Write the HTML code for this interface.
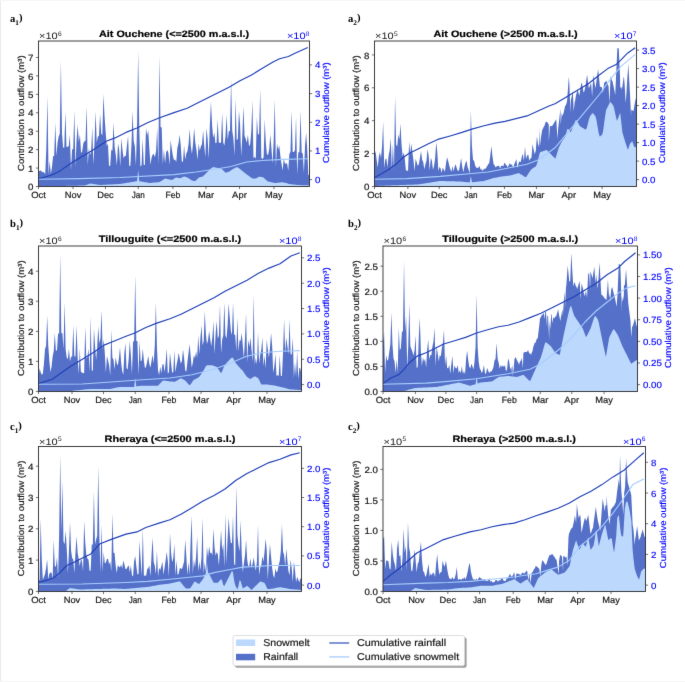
<!DOCTYPE html>
<html><head><meta charset="utf-8"><style>
html,body{margin:0;padding:0;background:#fff;}
svg{display:block;font-family:"Liberation Sans",sans-serif;will-change:transform;text-rendering:geometricPrecision;}
</style></head><body>
<svg width="685" height="682" viewBox="0 0 685 682">
<defs><filter id="bl" x="0" y="0" width="685" height="682" filterUnits="userSpaceOnUse" color-interpolation-filters="sRGB"><feConvolveMatrix order="3" kernelMatrix="0.00524 0.06192 0.00524 0.06192 0.73137 0.06192 0.00524 0.06192 0.00524" edgeMode="duplicate"/></filter></defs>
<g filter="url(#bl)">
<rect width="685" height="682" fill="#fff"/>
<rect x="0" y="0" width="1" height="682" fill="#ececec"/>
<rect x="0" y="0" width="685" height="1" fill="#f6f6f6"/>
<rect x="0" y="681" width="685" height="1" fill="#f6f6f6"/>
<clipPath id="clipa1"><rect x="38.5" y="41" width="271.0" height="145.5"/></clipPath>
<g clip-path="url(#clipa1)">
<path d="M38.50 186.50L38.50 169.97L39.62 171.32L40.74 170.29L41.86 171.83L42.98 172.33L44.10 172.34L45.22 174.25L46.34 147.83L47.46 96.00L48.58 174.72L49.70 161.00L50.82 173.87L51.94 167.48L53.06 156.23L54.18 156.08L55.30 122.50L56.42 155.79L57.54 143.00L58.66 136.40L59.78 133.83L60.90 61.00L62.02 133.47L63.14 147.81L64.26 147.53L65.38 111.50L66.50 146.97L67.62 146.69L68.74 146.29L69.86 134.60L70.97 170.24L72.09 149.56L73.22 148.94L74.33 110.40L75.45 166.90L76.57 139.91L77.69 124.70L78.81 141.98L79.93 134.60L81.05 153.09L82.17 151.57L83.29 143.40L84.41 141.36L85.53 140.81L86.65 106.00L87.77 165.25L88.89 148.00L90.01 155.06L91.13 151.64L92.25 127.00L93.37 164.52L94.49 142.58L95.61 111.50L96.73 142.43L97.85 136.80L98.97 135.77L100.09 113.70L101.21 133.16L102.33 135.49L103.45 93.90L104.57 117.00L105.69 132.58L106.81 146.27L107.93 143.40L109.05 165.90L110.17 165.81L111.29 149.52L112.41 150.66L113.53 122.50L114.65 146.97L115.77 154.66L116.89 165.47L118.01 143.40L119.13 148.93L120.25 166.15L121.37 137.90L122.49 150.17L123.61 158.37L124.73 156.01L125.85 155.73L126.97 145.34L128.09 135.70L129.21 165.67L130.33 166.08L131.45 145.24L132.57 110.40L133.69 140.88L134.81 146.24L135.93 165.29L137.04 126.92L138.16 51.00L139.28 127.02L140.41 166.20L141.53 165.52L142.65 139.00L143.76 164.98L144.88 164.99L146.00 128.00L147.12 135.57L148.24 130.20L149.36 148.80L150.48 164.65L151.60 157.41L152.72 154.40L153.84 153.98L154.96 157.20L156.08 150.86L157.20 128.10L158.32 164.32L159.44 55.40L160.56 127.25L161.68 127.18L162.80 164.22L163.92 149.37L165.04 163.42L166.16 152.00L167.28 150.00L168.40 152.85L169.52 164.76L170.64 140.00L171.76 148.44L172.88 155.76L174.00 159.97L175.12 159.56L176.24 161.89L177.36 147.88L178.48 143.47L179.60 134.60L180.72 144.88L181.84 161.59L182.96 161.76L184.08 145.60L185.20 159.49L186.32 153.44L187.44 151.31L188.56 143.89L189.68 129.00L190.80 145.73L191.92 153.88L193.04 143.69L194.16 128.00L195.28 142.52L196.40 149.47L197.52 159.84L198.64 143.40L199.76 150.76L200.88 146.48L202.00 144.00L203.12 130.20L204.24 145.70L205.35 157.23L206.47 128.00L207.59 138.00L208.72 158.56L209.84 124.90L210.96 101.60L212.07 124.78L213.19 137.97L214.31 132.40L215.43 143.29L216.55 142.63L217.67 119.20L218.79 142.52L219.91 142.76L221.03 142.73L222.15 112.60L223.27 142.65L224.39 145.45L225.51 135.57L226.63 114.80L227.75 139.89L228.87 130.92L229.99 130.89L231.11 79.60L232.23 130.81L233.35 137.95L234.47 155.48L235.59 98.30L236.71 139.92L237.83 138.98L238.95 110.40L240.07 123.96L241.19 155.95L242.31 135.63L243.43 106.00L244.55 135.81L245.67 138.55L246.79 142.81L247.91 134.60L249.03 146.14L250.15 144.26L251.27 131.99L252.39 100.50L253.51 158.27L254.63 156.83L255.75 158.69L256.87 117.00L257.99 134.30L259.11 134.39L260.23 88.40L261.35 158.12L262.47 159.05L263.59 157.48L264.71 119.20L265.83 143.04L266.95 154.40L268.07 154.68L269.19 149.19L270.31 134.60L271.43 147.99L272.55 163.49L273.67 141.24L274.79 99.40L275.90 166.80L277.02 143.83L278.14 149.49L279.26 145.60L280.38 155.96L281.50 163.72L282.62 170.46L283.74 158.80L284.86 163.33L285.98 163.86L287.10 163.20L288.22 170.83L289.34 154.34L290.46 151.77L291.58 110.40L292.70 151.92L293.82 151.99L294.94 150.18L296.06 117.00L297.18 174.14L298.30 152.29L299.42 152.37L300.54 110.40L301.66 152.52L302.78 153.38L303.90 172.73L305.02 146.10L306.14 132.40L307.26 149.68L308.38 175.26L309.50 174.62L309.50 186.50Z" fill="#5470c8"/>
<path d="M38.50 186.50L38.50 186.30L39.62 186.28L40.74 186.27L41.86 186.25L42.98 186.24L44.10 186.22L45.22 186.21L46.34 186.19L47.46 186.17L48.58 186.16L49.70 186.14L50.82 186.13L51.94 186.11L53.06 186.10L54.18 186.08L55.30 186.07L56.42 186.05L57.54 186.03L58.66 186.02L59.78 186.00L60.90 185.98L62.02 185.96L63.14 185.94L64.26 185.91L65.38 185.89L66.50 185.87L67.62 185.85L68.74 185.83L69.86 185.80L70.97 185.78L72.09 185.76L73.22 185.74L74.33 185.71L75.45 185.69L76.57 185.67L77.69 185.65L78.81 185.62L79.93 185.60L81.05 185.58L82.17 185.56L83.29 185.53L84.41 185.51L85.53 185.29L86.65 184.84L87.77 184.39L88.89 183.94L90.01 183.50L91.13 183.67L92.25 183.84L93.37 184.01L94.49 184.17L95.61 184.34L96.73 184.51L97.85 184.68L98.97 184.85L100.09 185.00L101.21 184.94L102.33 184.88L103.45 184.83L104.57 184.77L105.69 184.72L106.81 184.66L107.93 184.60L109.05 184.55L110.17 184.49L111.29 184.44L112.41 184.38L113.53 184.32L114.65 184.27L115.77 184.21L116.89 184.16L118.01 184.10L119.13 184.04L120.25 183.96L121.37 183.77L122.49 183.59L123.61 183.40L124.73 183.21L125.85 183.03L126.97 182.84L128.09 182.65L129.21 182.47L130.33 182.28L131.45 182.09L132.57 181.91L133.69 181.72L134.81 181.53L135.93 181.35L137.04 181.16L138.16 170.00L139.28 181.21L140.41 181.40L141.53 181.59L142.65 181.77L143.76 181.96L144.88 182.15L146.00 182.33L147.12 182.52L148.24 182.71L149.36 182.89L150.48 182.95L151.60 182.84L152.72 182.73L153.84 182.62L154.96 182.50L156.08 182.39L157.20 182.28L158.32 182.17L159.44 182.06L160.56 181.61L161.68 180.82L162.80 180.04L163.92 179.26L165.04 178.51L166.16 178.75L167.28 178.99L168.40 179.23L169.52 179.47L170.64 179.71L171.76 179.95L172.88 179.45L174.00 178.75L175.12 178.05L176.24 177.55L177.36 177.81L178.48 178.06L179.60 178.31L180.72 178.04L181.84 177.48L182.96 176.92L184.08 176.57L185.20 176.87L186.32 177.16L187.44 177.46L188.56 178.21L189.68 179.03L190.80 179.86L191.92 180.42L193.04 180.69L194.16 180.95L195.28 181.12L196.40 180.00L197.52 178.88L198.64 177.76L199.76 177.22L200.88 176.96L202.00 176.69L203.12 176.18L204.24 175.06L205.35 173.94L206.47 172.82L207.59 171.70L208.72 170.59L209.84 169.47L210.96 168.52L212.07 167.76L213.19 167.00L214.31 167.23L215.43 167.47L216.55 167.70L217.67 167.93L218.79 168.19L219.91 168.47L221.03 168.74L222.15 169.35L223.27 170.47L224.39 171.59L225.51 172.70L226.63 172.40L227.75 172.11L228.87 171.81L229.99 171.19L231.11 170.36L232.23 169.54L233.35 168.77L234.47 168.21L235.59 167.65L236.71 167.09L237.83 167.61L238.95 168.34L240.07 169.12L241.19 170.02L242.31 170.93L243.43 171.83L244.55 172.74L245.67 173.56L246.79 174.39L247.91 175.21L249.03 176.06L250.15 176.91L251.27 177.77L252.39 178.40L253.51 178.40L254.63 178.40L255.75 178.40L256.87 177.92L257.99 177.36L259.11 176.80L260.23 176.64L261.35 176.93L262.47 177.23L263.59 177.58L264.71 178.68L265.83 179.76L266.95 180.86L268.07 181.39L269.19 181.67L270.31 181.95L271.43 182.23L272.55 182.51L273.67 182.79L274.79 183.07L275.90 182.98L277.02 182.85L278.14 182.72L279.26 182.58L280.38 182.45L281.50 182.32L282.62 182.23L283.74 182.51L284.86 182.79L285.98 183.07L287.10 183.35L288.22 183.63L289.34 183.91L290.46 184.14L291.58 184.28L292.70 184.41L293.82 184.55L294.94 184.68L296.06 184.82L297.18 184.95L298.30 185.02L299.42 185.06L300.54 185.10L301.66 185.14L302.78 185.17L303.90 185.21L305.02 185.25L306.14 185.29L307.26 185.32L308.38 185.36L309.50 185.40L309.50 186.50Z" fill="#bcd8fd"/>
<path d="M38.50 178.80L51.20 175.30L60.00 170.90L71.00 163.20L82.00 156.60L93.00 150.00L106.20 141.20L115.00 137.90L126.00 132.40L137.00 128.00L148.00 122.50L159.00 118.00L174.00 112.60L187.20 108.20L196.00 103.80L207.00 98.30L218.00 92.80L229.00 87.30L240.00 80.70L251.00 75.20L262.00 68.60L273.00 62.00L279.60 58.70L288.40 56.50L295.00 53.20L307.80 47.50" fill="none" stroke="#2040b8" stroke-width="1.15" stroke-linejoin="round"/>
<path d="M38.50 179.30L80.00 178.60L120.00 177.50L174.00 174.60L196.00 172.00L218.00 168.70L231.00 166.50L246.60 162.00L262.00 160.50L284.00 159.40L307.80 158.80" fill="none" stroke="#a6cdfe" stroke-width="1.1" stroke-linejoin="round"/>
</g>
<text x="10.00" y="22.20" font-family="Liberation Serif" font-weight="bold" font-size="10.6">a<tspan font-size="7.2" dy="2.8">1</tspan><tspan dy="-3.7">)</tspan></text>
<text x="174.00" y="36.60" font-size="9.33" text-anchor="middle" fill="#000" stroke="#000" stroke-width="0.200" font-weight="bold" textLength="150.00" lengthAdjust="spacingAndGlyphs">Ait Ouchene (&lt;=2500 m.a.s.l.)</text>
<text x="39.10" y="39.10" font-size="9.37" fill="#1a1a1a" textLength="18.66" lengthAdjust="spacingAndGlyphs">×10</text><text x="58.06" y="35.50" font-size="6.56" fill="#1a1a1a">6</text>
<text x="286.91" y="39.10" font-size="9.37" fill="#0000ff" textLength="18.66" lengthAdjust="spacingAndGlyphs">×10</text><text x="305.86" y="35.50" font-size="6.56" fill="#0000ff">8</text>
<text x="33.50" y="190.10" font-size="9.01" text-anchor="end" fill="#1a1a1a" stroke="#1a1a1a" stroke-width="0.200" textLength="5.41" lengthAdjust="spacingAndGlyphs">0</text>
<text x="33.50" y="171.67" font-size="9.01" text-anchor="end" fill="#1a1a1a" stroke="#1a1a1a" stroke-width="0.200" textLength="5.41" lengthAdjust="spacingAndGlyphs">1</text>
<text x="33.50" y="153.24" font-size="9.01" text-anchor="end" fill="#1a1a1a" stroke="#1a1a1a" stroke-width="0.200" textLength="5.41" lengthAdjust="spacingAndGlyphs">2</text>
<text x="33.50" y="134.81" font-size="9.01" text-anchor="end" fill="#1a1a1a" stroke="#1a1a1a" stroke-width="0.200" textLength="5.41" lengthAdjust="spacingAndGlyphs">3</text>
<text x="33.50" y="116.38" font-size="9.01" text-anchor="end" fill="#1a1a1a" stroke="#1a1a1a" stroke-width="0.200" textLength="5.41" lengthAdjust="spacingAndGlyphs">4</text>
<text x="33.50" y="97.95" font-size="9.01" text-anchor="end" fill="#1a1a1a" stroke="#1a1a1a" stroke-width="0.200" textLength="5.41" lengthAdjust="spacingAndGlyphs">5</text>
<text x="33.50" y="79.52" font-size="9.01" text-anchor="end" fill="#1a1a1a" stroke="#1a1a1a" stroke-width="0.200" textLength="5.41" lengthAdjust="spacingAndGlyphs">6</text>
<text x="33.50" y="61.09" font-size="9.01" text-anchor="end" fill="#1a1a1a" stroke="#1a1a1a" stroke-width="0.200" textLength="5.41" lengthAdjust="spacingAndGlyphs">7</text>
<text x="314.90" y="183.10" font-size="9.01" text-anchor="start" fill="#0000ff" stroke="#0000ff" stroke-width="0.140" textLength="5.41" lengthAdjust="spacingAndGlyphs">0</text>
<text x="314.90" y="154.43" font-size="9.01" text-anchor="start" fill="#0000ff" stroke="#0000ff" stroke-width="0.140" textLength="5.41" lengthAdjust="spacingAndGlyphs">1</text>
<text x="314.90" y="125.76" font-size="9.01" text-anchor="start" fill="#0000ff" stroke="#0000ff" stroke-width="0.140" textLength="5.41" lengthAdjust="spacingAndGlyphs">2</text>
<text x="314.90" y="97.09" font-size="9.01" text-anchor="start" fill="#0000ff" stroke="#0000ff" stroke-width="0.140" textLength="5.41" lengthAdjust="spacingAndGlyphs">3</text>
<text x="314.90" y="68.42" font-size="9.01" text-anchor="start" fill="#0000ff" stroke="#0000ff" stroke-width="0.140" textLength="5.41" lengthAdjust="spacingAndGlyphs">4</text>
<text x="38.50" y="198.10" font-size="9.01" text-anchor="middle" fill="#1a1a1a" stroke="#1a1a1a" stroke-width="0.200" textLength="14.70" lengthAdjust="spacingAndGlyphs">Oct</text>
<text x="73.03" y="198.10" font-size="9.01" text-anchor="middle" fill="#1a1a1a" stroke="#1a1a1a" stroke-width="0.200" textLength="16.59" lengthAdjust="spacingAndGlyphs">Nov</text>
<text x="105.44" y="198.10" font-size="9.01" text-anchor="middle" fill="#1a1a1a" stroke="#1a1a1a" stroke-width="0.200" textLength="16.45" lengthAdjust="spacingAndGlyphs">Dec</text>
<text x="138.20" y="198.10" font-size="9.01" text-anchor="middle" fill="#1a1a1a" stroke="#1a1a1a" stroke-width="0.200" textLength="13.10" lengthAdjust="spacingAndGlyphs">Jan</text>
<text x="172.92" y="198.10" font-size="9.01" text-anchor="middle" fill="#1a1a1a" stroke="#1a1a1a" stroke-width="0.200" textLength="15.05" lengthAdjust="spacingAndGlyphs">Feb</text>
<text x="205.98" y="198.10" font-size="9.01" text-anchor="middle" fill="#1a1a1a" stroke="#1a1a1a" stroke-width="0.200" textLength="16.04" lengthAdjust="spacingAndGlyphs">Mar</text>
<text x="239.47" y="198.10" font-size="9.01" text-anchor="middle" fill="#1a1a1a" stroke="#1a1a1a" stroke-width="0.200" textLength="14.71" lengthAdjust="spacingAndGlyphs">Apr</text>
<text x="273.92" y="198.10" font-size="9.01" text-anchor="middle" fill="#1a1a1a" stroke="#1a1a1a" stroke-width="0.200" textLength="17.57" lengthAdjust="spacingAndGlyphs">May</text>
<path d="M38.50 186.50h-2.6 M38.50 168.07h-2.6 M38.50 149.64h-2.6 M38.50 131.21h-2.6 M38.50 112.78h-2.6 M38.50 94.35h-2.6 M38.50 75.92h-2.6 M38.50 57.49h-2.6 M309.50 179.60h2.6 M309.50 150.93h2.6 M309.50 122.26h2.6 M309.50 93.59h2.6 M309.50 64.92h2.6 M38.50 186.50v2.6 M73.03 186.50v2.6 M105.44 186.50v2.6 M138.20 186.50v2.6 M172.92 186.50v2.6 M205.98 186.50v2.6 M239.47 186.50v2.6 M273.92 186.50v2.6" stroke="#444" stroke-width="0.75" fill="none"/>
<text x="24.00" y="113.15" font-size="8.75" text-anchor="middle" fill="#1a1a1a" stroke="#1a1a1a" stroke-width="0.200" textLength="115.65" lengthAdjust="spacingAndGlyphs" transform="rotate(-90 24.00 113.15)">Contribution to outflow (m³)</text>
<text x="329.50" y="112.65" font-size="8.75" text-anchor="middle" fill="#0000ff" stroke="#0000ff" stroke-width="0.140" textLength="100.61" lengthAdjust="spacingAndGlyphs" transform="rotate(-90 329.50 112.65)">Cumulative outflow (m³)</text>
<rect x="38.50" y="41.00" width="271.00" height="145.50" fill="none" stroke="#2a2a2a" stroke-width="0.9"/>
<clipPath id="clipa2"><rect x="374.5" y="41" width="262.0" height="145.5"/></clipPath>
<g clip-path="url(#clipa2)">
<path d="M374.50 186.50L374.50 155.63L375.58 151.00L376.67 160.03L377.75 167.55L378.83 156.60L379.91 152.20L381.00 158.18L382.08 145.95L383.16 121.40L384.24 168.11L385.33 158.93L386.41 158.80L387.49 167.33L388.57 155.67L389.66 150.52L390.74 137.90L391.82 169.97L392.90 143.40L393.99 170.18L395.07 96.10L396.15 144.44L397.24 146.41L398.32 134.60L399.40 139.59L400.48 123.60L401.57 145.06L402.65 156.51L403.73 152.20L404.81 158.63L405.90 170.39L406.98 170.52L408.06 171.12L409.14 141.20L410.23 153.73L411.31 143.40L412.39 152.32L413.48 160.31L414.56 170.99L415.64 158.80L416.72 162.36L417.81 165.91L418.89 163.98L419.97 157.69L421.05 151.00L422.14 159.70L423.22 162.00L424.30 169.24L425.38 164.48L426.47 160.72L427.55 148.90L428.63 155.60L429.71 170.54L430.80 157.70L431.88 160.69L432.96 169.85L434.05 166.08L435.13 158.27L436.21 142.30L437.29 151.85L438.38 170.90L439.46 166.92L440.54 168.13L441.62 172.95L442.71 167.80L443.79 169.62L444.87 172.07L445.95 163.86L447.04 157.30L448.12 160.78L449.20 165.29L450.29 168.91L451.37 171.92L452.45 166.00L453.53 171.59L454.62 166.82L455.70 164.30L456.78 168.25L457.86 171.06L458.95 170.50L460.03 165.02L461.11 158.10L462.19 166.39L463.28 172.29L464.36 166.99L465.44 163.11L466.52 160.80L467.61 166.94L468.69 170.11L469.77 173.26L470.86 110.00L471.94 146.09L473.02 160.10L474.10 160.80L475.19 165.83L476.27 167.75L477.35 167.64L478.43 167.71L479.52 166.00L480.60 169.59L481.68 169.31L482.76 171.11L483.85 168.65L484.93 168.91L486.01 168.04L487.10 166.30L488.18 164.30L489.26 162.92L490.34 154.90L491.43 145.90L492.51 156.81L493.59 163.97L494.67 165.59L495.76 167.53L496.84 166.00L497.92 166.36L499.00 165.47L500.09 168.50L501.17 165.67L502.25 165.84L503.33 166.18L504.42 162.50L505.50 164.37L506.58 165.15L507.67 167.29L508.75 165.32L509.83 163.00L510.91 165.10L512.00 164.26L513.08 167.89L514.16 164.54L515.24 162.10L516.33 159.00L517.41 167.91L518.49 163.14L519.57 161.33L520.66 162.26L521.74 156.94L522.82 153.80L523.90 160.92L524.99 146.80L526.07 158.99L527.15 155.59L528.24 154.42L529.32 160.67L530.40 158.59L531.48 157.71L532.57 144.10L533.65 149.54L534.73 154.28L535.81 150.42L536.90 136.30L537.98 143.69L539.06 146.95L540.00 127.70L540.14 145.44L541.23 135.74L542.31 129.49L542.90 129.00L543.39 127.56L544.48 125.81L545.56 122.17L545.80 121.80L546.64 121.67L547.72 122.70L548.80 124.70L548.81 141.74L549.89 125.91L550.97 125.93L551.70 126.20L552.05 126.05L553.14 124.47L554.22 122.43L555.30 121.10L556.10 118.90L556.38 120.79L557.47 139.09L558.20 127.70L558.55 125.50L559.63 115.63L560.40 108.70L560.72 124.42L561.80 112.85L562.60 116.00L562.88 115.20L563.96 111.34L564.80 107.20L565.04 106.23L566.13 104.48L567.00 101.40L567.21 99.25L568.29 83.91L568.80 76.50L569.38 84.10L570.46 113.65L570.70 101.40L571.54 97.27L572.62 92.16L572.80 91.10L573.71 111.47L574.79 101.23L575.00 101.40L575.87 96.00L576.96 91.66L577.20 89.70L578.04 90.91L579.12 95.01L579.40 95.50L580.20 89.76L581.28 83.34L581.60 82.40L582.37 85.25L583.45 91.76L583.80 92.60L584.53 90.40L585.30 86.80L585.62 84.63L586.70 77.26L587.20 75.10L587.78 80.53L588.86 88.65L588.90 88.20L589.95 85.82L591.03 83.00L591.10 82.40L592.11 96.70L593.19 76.32L593.30 75.10L594.28 81.43L595.36 87.62L595.50 88.20L596.44 80.96L597.52 72.91L598.10 69.20L598.61 73.22L599.69 84.32L599.90 86.80L600.77 86.65L601.86 87.28L602.00 88.20L602.94 93.23L604.02 83.74L604.20 82.40L605.10 82.57L606.19 80.27L606.40 80.90L607.27 83.14L608.35 85.47L608.60 86.80L609.43 103.15L610.52 77.42L610.80 76.50L611.60 79.47L612.68 81.90L613.00 83.80L613.76 87.22L614.85 92.68L615.20 95.50L615.93 79.10L617.01 55.45L617.40 48.00L618.10 48.05L618.80 48.80L619.18 57.74L620.00 76.50L620.26 87.61L621.34 87.26L621.80 89.70L622.43 86.13L623.51 78.08L623.90 76.50L624.59 83.79L625.67 102.84L626.10 98.40L626.76 87.24L627.84 70.83L628.30 63.40L628.92 74.59L629.80 91.10L630.00 94.55L631.09 115.93L631.20 110.10L632.17 110.24L633.25 110.89L633.40 111.60L634.34 105.68L635.42 99.91L635.60 98.40L636.50 100.00L636.50 186.50Z" fill="#5470c8"/>
<path d="M374.50 186.50L374.50 186.00L375.58 185.96L376.67 185.92L377.75 185.88L378.83 185.84L379.91 185.80L381.00 185.76L382.08 185.72L383.16 185.68L384.24 185.64L385.33 185.60L386.41 185.56L387.49 185.52L388.57 185.48L389.66 185.44L390.74 185.40L391.82 185.36L392.90 185.32L393.99 185.27L395.07 185.23L396.15 185.20L397.24 185.16L398.32 185.13L399.40 185.09L400.48 185.06L401.57 185.02L402.65 184.99L403.73 184.95L404.81 184.92L405.90 184.89L406.98 184.85L408.06 184.82L409.14 184.78L410.23 184.75L411.31 184.71L412.39 184.68L413.48 184.64L414.56 184.61L415.64 184.58L416.72 184.54L417.81 184.51L418.89 184.36L419.97 184.19L421.05 184.01L422.14 183.84L423.22 183.67L424.30 183.50L425.38 183.33L426.47 183.15L427.55 182.98L428.63 182.81L429.71 182.64L430.80 182.46L431.88 182.29L432.96 182.12L434.05 181.95L435.13 181.78L436.21 181.60L437.29 181.43L438.38 181.26L439.46 181.09L440.54 181.01L441.62 181.04L442.71 181.07L443.79 181.09L444.87 181.12L445.95 181.15L447.04 181.18L448.12 181.20L449.20 181.23L450.29 181.26L451.37 181.28L452.45 181.31L453.53 181.34L454.62 181.37L455.70 181.39L456.78 181.42L457.86 181.45L458.95 181.47L460.03 181.50L461.11 181.61L462.19 181.72L463.28 181.83L464.36 181.94L465.44 182.04L466.52 182.15L467.61 182.26L468.69 182.37L469.77 182.48L470.86 176.00L471.94 182.29L473.02 182.18L474.10 182.06L475.19 181.94L476.27 181.83L477.35 181.71L478.43 181.60L479.52 181.48L480.60 181.36L481.68 181.25L482.76 181.13L483.85 181.02L484.93 180.71L486.01 180.37L487.10 180.03L488.18 179.69L489.26 179.35L490.34 179.01L491.43 178.67L492.51 178.33L493.59 178.09L494.67 177.87L495.76 177.65L496.84 177.42L497.92 177.20L499.00 176.98L500.09 176.75L501.17 176.53L502.25 176.40L503.33 176.29L504.42 176.18L505.50 176.07L506.58 175.95L507.67 175.84L508.75 175.73L509.83 175.62L510.91 175.33L512.00 175.01L513.08 174.69L514.16 174.37L515.24 174.05L516.33 173.73L517.41 173.41L518.49 173.09L519.57 173.49L520.66 174.17L521.74 174.85L522.82 175.53L523.90 176.21L524.99 176.89L526.07 177.00L527.15 175.38L528.24 173.77L529.32 172.16L530.40 170.54L531.48 169.25L532.57 168.53L533.65 167.82L534.73 167.10L535.81 166.39L536.90 164.09L537.98 159.95L539.06 155.80L540.00 152.20L540.14 152.15L541.23 151.79L542.31 151.43L542.90 151.23L543.39 151.07L544.48 150.71L545.56 150.35L545.80 150.27L546.64 150.04L547.72 151.12L548.80 152.20L548.81 152.21L549.89 153.29L550.97 154.37L551.70 155.10L552.05 155.45L553.14 156.54L554.22 157.62L555.30 158.70L556.10 156.47L556.38 155.52L557.47 151.91L558.20 149.47L558.55 148.30L559.63 145.94L560.40 144.40L560.72 143.77L561.80 141.60L562.60 140.40L562.88 140.03L563.96 138.58L564.80 137.47L565.04 137.14L566.13 133.49L567.00 130.00L567.21 129.16L568.29 129.06L568.80 129.73L569.38 130.50L570.46 131.95L570.70 132.27L571.54 130.42L572.62 127.54L572.80 127.07L573.71 124.65L574.79 122.22L575.00 121.80L575.87 120.06L576.96 120.51L577.20 121.00L578.04 122.67L579.12 124.84L579.40 125.40L580.20 126.20L581.28 126.92L581.60 127.13L582.37 127.65L583.45 128.37L583.80 128.60L584.53 129.09L585.30 129.60L585.62 129.81L586.70 128.21L587.20 126.20L587.78 123.88L588.86 119.54L588.90 119.40L589.95 116.39L591.03 114.90L591.10 114.80L592.11 113.41L593.19 113.26L593.30 113.40L594.28 114.70L595.36 116.15L595.50 116.33L596.44 119.65L597.52 126.15L598.10 129.60L598.61 132.64L599.69 136.54L599.90 136.40L600.77 135.82L601.86 135.10L602.00 135.00L602.94 132.12L604.02 124.18L604.20 122.87L605.10 116.24L606.19 109.83L606.40 109.40L607.27 107.66L608.35 105.50L608.60 105.00L609.43 103.33L610.52 101.89L610.80 102.27L611.60 103.33L612.68 104.78L613.00 105.20L613.76 106.77L614.85 111.82L615.20 113.47L615.93 116.87L617.01 121.10L617.40 120.07L618.10 118.21L618.80 116.33L619.18 115.33L620.00 113.13L620.26 113.14L621.34 122.89L621.80 127.00L622.43 132.49L623.51 136.09L623.90 137.40L624.59 139.70L625.67 143.31L626.10 144.60L626.76 146.57L627.84 149.82L628.30 148.80L628.92 146.94L629.80 144.30L630.00 143.69L631.09 142.41L631.20 142.30L632.17 141.33L633.25 144.06L633.40 144.50L634.34 147.31L635.42 147.05L635.60 146.90L636.50 146.16L636.50 186.50Z" fill="#bcd8fd"/>
<path d="M374.50 177.50L380.60 174.20L388.30 169.80L396.00 164.30L401.50 158.80L409.20 153.30L418.00 148.90L429.00 143.40L437.80 139.40L451.00 135.70L462.00 132.40L471.90 129.10L484.00 125.80L495.00 123.10L505.00 121.40L527.00 115.90L549.00 106.00L555.00 103.80L566.00 97.20L577.00 90.60L588.00 84.00L599.00 75.20L607.80 68.60L616.60 64.20L621.00 59.80L627.50 53.20L635.20 47.70" fill="none" stroke="#2040b8" stroke-width="1.15" stroke-linejoin="round"/>
<path d="M374.50 179.20L407.00 178.60L440.00 176.40L472.00 173.50L488.40 172.00L505.00 168.70L527.00 164.30L538.00 159.90L549.00 152.20L555.00 147.80L566.00 134.60L577.00 121.40L588.00 108.20L599.00 95.00L610.00 79.60L621.00 66.40L635.20 54.30" fill="none" stroke="#a6cdfe" stroke-width="1.1" stroke-linejoin="round"/>
</g>
<text x="348.00" y="22.20" font-family="Liberation Serif" font-weight="bold" font-size="10.6">a<tspan font-size="7.2" dy="2.8">2</tspan><tspan dy="-3.7">)</tspan></text>
<text x="505.50" y="36.60" font-size="9.33" text-anchor="middle" fill="#000" stroke="#000" stroke-width="0.200" font-weight="bold" textLength="144.00" lengthAdjust="spacingAndGlyphs">Ait Ouchene (&gt;2500 m.a.s.l.)</text>
<text x="375.10" y="39.10" font-size="9.37" fill="#1a1a1a" textLength="18.66" lengthAdjust="spacingAndGlyphs">×10</text><text x="394.06" y="35.50" font-size="6.56" fill="#1a1a1a">5</text>
<text x="613.91" y="39.10" font-size="9.37" fill="#0000ff" textLength="18.66" lengthAdjust="spacingAndGlyphs">×10</text><text x="632.86" y="35.50" font-size="6.56" fill="#0000ff">7</text>
<text x="369.50" y="190.10" font-size="9.01" text-anchor="end" fill="#1a1a1a" stroke="#1a1a1a" stroke-width="0.200" textLength="5.41" lengthAdjust="spacingAndGlyphs">0</text>
<text x="369.50" y="157.20" font-size="9.01" text-anchor="end" fill="#1a1a1a" stroke="#1a1a1a" stroke-width="0.200" textLength="5.41" lengthAdjust="spacingAndGlyphs">2</text>
<text x="369.50" y="124.30" font-size="9.01" text-anchor="end" fill="#1a1a1a" stroke="#1a1a1a" stroke-width="0.200" textLength="5.41" lengthAdjust="spacingAndGlyphs">4</text>
<text x="369.50" y="91.40" font-size="9.01" text-anchor="end" fill="#1a1a1a" stroke="#1a1a1a" stroke-width="0.200" textLength="5.41" lengthAdjust="spacingAndGlyphs">6</text>
<text x="369.50" y="58.50" font-size="9.01" text-anchor="end" fill="#1a1a1a" stroke="#1a1a1a" stroke-width="0.200" textLength="5.41" lengthAdjust="spacingAndGlyphs">8</text>
<text x="641.90" y="183.10" font-size="9.01" text-anchor="start" fill="#0000ff" stroke="#0000ff" stroke-width="0.140" textLength="13.52" lengthAdjust="spacingAndGlyphs">0.0</text>
<text x="641.90" y="164.60" font-size="9.01" text-anchor="start" fill="#0000ff" stroke="#0000ff" stroke-width="0.140" textLength="13.52" lengthAdjust="spacingAndGlyphs">0.5</text>
<text x="641.90" y="146.10" font-size="9.01" text-anchor="start" fill="#0000ff" stroke="#0000ff" stroke-width="0.140" textLength="13.52" lengthAdjust="spacingAndGlyphs">1.0</text>
<text x="641.90" y="127.60" font-size="9.01" text-anchor="start" fill="#0000ff" stroke="#0000ff" stroke-width="0.140" textLength="13.52" lengthAdjust="spacingAndGlyphs">1.5</text>
<text x="641.90" y="109.10" font-size="9.01" text-anchor="start" fill="#0000ff" stroke="#0000ff" stroke-width="0.140" textLength="13.52" lengthAdjust="spacingAndGlyphs">2.0</text>
<text x="641.90" y="90.60" font-size="9.01" text-anchor="start" fill="#0000ff" stroke="#0000ff" stroke-width="0.140" textLength="13.52" lengthAdjust="spacingAndGlyphs">2.5</text>
<text x="641.90" y="72.10" font-size="9.01" text-anchor="start" fill="#0000ff" stroke="#0000ff" stroke-width="0.140" textLength="13.52" lengthAdjust="spacingAndGlyphs">3.0</text>
<text x="641.90" y="53.60" font-size="9.01" text-anchor="start" fill="#0000ff" stroke="#0000ff" stroke-width="0.140" textLength="13.52" lengthAdjust="spacingAndGlyphs">3.5</text>
<text x="374.50" y="198.10" font-size="9.01" text-anchor="middle" fill="#1a1a1a" stroke="#1a1a1a" stroke-width="0.200" textLength="14.70" lengthAdjust="spacingAndGlyphs">Oct</text>
<text x="407.88" y="198.10" font-size="9.01" text-anchor="middle" fill="#1a1a1a" stroke="#1a1a1a" stroke-width="0.200" textLength="16.59" lengthAdjust="spacingAndGlyphs">Nov</text>
<text x="439.21" y="198.10" font-size="9.01" text-anchor="middle" fill="#1a1a1a" stroke="#1a1a1a" stroke-width="0.200" textLength="16.45" lengthAdjust="spacingAndGlyphs">Dec</text>
<text x="470.89" y="198.10" font-size="9.01" text-anchor="middle" fill="#1a1a1a" stroke="#1a1a1a" stroke-width="0.200" textLength="13.10" lengthAdjust="spacingAndGlyphs">Jan</text>
<text x="504.45" y="198.10" font-size="9.01" text-anchor="middle" fill="#1a1a1a" stroke="#1a1a1a" stroke-width="0.200" textLength="15.05" lengthAdjust="spacingAndGlyphs">Feb</text>
<text x="536.42" y="198.10" font-size="9.01" text-anchor="middle" fill="#1a1a1a" stroke="#1a1a1a" stroke-width="0.200" textLength="16.04" lengthAdjust="spacingAndGlyphs">Mar</text>
<text x="568.80" y="198.10" font-size="9.01" text-anchor="middle" fill="#1a1a1a" stroke="#1a1a1a" stroke-width="0.200" textLength="14.71" lengthAdjust="spacingAndGlyphs">Apr</text>
<text x="602.10" y="198.10" font-size="9.01" text-anchor="middle" fill="#1a1a1a" stroke="#1a1a1a" stroke-width="0.200" textLength="17.57" lengthAdjust="spacingAndGlyphs">May</text>
<path d="M374.50 186.50h-2.6 M374.50 153.60h-2.6 M374.50 120.70h-2.6 M374.50 87.80h-2.6 M374.50 54.90h-2.6 M636.50 179.60h2.6 M636.50 161.10h2.6 M636.50 142.60h2.6 M636.50 124.10h2.6 M636.50 105.60h2.6 M636.50 87.10h2.6 M636.50 68.60h2.6 M636.50 50.10h2.6 M374.50 186.50v2.6 M407.88 186.50v2.6 M439.21 186.50v2.6 M470.89 186.50v2.6 M504.45 186.50v2.6 M536.42 186.50v2.6 M568.80 186.50v2.6 M602.10 186.50v2.6" stroke="#444" stroke-width="0.75" fill="none"/>
<text x="359.30" y="113.15" font-size="8.75" text-anchor="middle" fill="#1a1a1a" stroke="#1a1a1a" stroke-width="0.200" textLength="115.65" lengthAdjust="spacingAndGlyphs" transform="rotate(-90 359.30 113.15)">Contribution to outflow (m³)</text>
<text x="665.20" y="112.65" font-size="8.75" text-anchor="middle" fill="#0000ff" stroke="#0000ff" stroke-width="0.140" textLength="100.61" lengthAdjust="spacingAndGlyphs" transform="rotate(-90 665.20 112.65)">Cumulative outflow (m³)</text>
<rect x="374.50" y="41.00" width="262.00" height="145.50" fill="none" stroke="#2a2a2a" stroke-width="0.9"/>
<clipPath id="clipb1"><rect x="38.5" y="246" width="263.0" height="145.5"/></clipPath>
<g clip-path="url(#clipb1)">
<path d="M38.50 391.50L38.50 376.87L39.59 368.20L40.67 372.20L41.76 374.76L42.85 373.70L43.93 363.69L45.02 348.94L46.11 345.68L47.19 315.40L48.28 346.00L49.37 360.63L50.45 372.25L51.54 366.82L52.63 356.43L53.72 351.16L54.80 333.00L55.89 350.44L56.98 350.60L58.06 333.86L59.15 333.51L60.24 253.80L61.32 333.14L62.41 333.00L63.50 349.17L64.58 302.20L65.67 349.80L66.76 357.59L67.84 359.21L68.93 348.40L70.02 361.61L71.10 356.70L72.19 356.59L73.28 325.30L74.36 356.37L75.45 356.68L76.54 325.30L77.62 356.46L78.71 373.65L79.80 348.40L80.88 371.85L81.97 372.39L83.06 373.29L84.14 373.01L85.23 326.40L86.32 358.48L87.41 357.33L88.49 348.40L89.58 371.83L90.67 316.50L91.75 370.33L92.84 370.88L93.93 328.60L95.01 345.44L96.10 360.12L97.19 347.17L98.27 326.40L99.36 343.51L100.45 338.36L101.53 309.90L102.62 349.40L103.71 339.60L104.79 352.74L105.88 372.65L106.97 356.10L108.05 360.42L109.14 365.55L110.23 375.13L111.31 329.70L112.40 357.74L113.49 359.64L114.57 369.54L115.66 357.20L116.75 363.15L117.83 365.72L118.92 357.95L120.01 347.30L121.09 362.25L122.18 370.98L123.27 374.73L124.36 353.00L125.44 342.90L126.53 368.17L127.62 369.38L128.70 358.76L129.79 340.70L130.88 355.32L131.96 374.27L133.05 341.74L134.14 340.94L135.22 274.70L136.31 340.97L137.40 340.99L138.48 375.35L139.57 340.70L140.66 361.03L141.74 360.65L142.83 348.40L143.92 360.98L145.00 368.39L146.09 366.57L147.18 361.47L148.26 356.10L149.35 363.88L150.44 367.49L151.53 361.09L152.61 355.00L153.70 363.58L154.78 345.53L155.87 302.20L156.96 347.62L158.04 370.48L159.13 374.94L160.22 366.48L161.31 373.14L162.39 364.47L163.48 363.97L164.57 371.88L165.65 362.42L166.74 348.40L167.83 373.45L168.91 372.33L170.00 352.80L171.09 362.99L172.17 372.65L173.26 371.95L174.35 350.60L175.43 372.16L176.52 365.00L177.61 359.75L178.69 352.80L179.78 358.55L180.87 363.84L181.96 360.81L183.04 349.50L184.13 358.17L185.22 370.23L186.30 371.67L187.39 362.30L188.47 353.41L189.56 344.00L190.65 355.78L191.74 367.44L192.82 362.72L193.91 355.00L195.00 358.33L196.08 351.24L197.17 357.67L198.26 335.20L199.34 354.13L200.43 337.58L201.52 325.30L202.60 345.39L203.69 340.96L204.78 311.00L205.86 333.57L206.95 344.09L208.04 340.32L209.12 330.80L210.21 339.11L211.30 346.20L212.38 337.03L213.47 320.90L214.56 354.35L215.65 333.10L216.73 320.90L217.82 338.78L218.91 335.46L219.99 304.40L221.08 353.32L222.16 339.39L223.25 335.58L224.34 302.20L225.43 335.35L226.51 338.41L227.60 325.28L228.69 303.30L229.77 317.93L230.86 331.04L231.95 334.98L233.03 302.20L234.12 334.84L235.21 334.86L236.29 351.58L237.38 317.60L238.47 351.46L239.55 340.13L240.64 340.67L241.73 333.00L242.81 345.66L243.90 358.41L244.99 338.71L246.07 313.20L247.16 362.51L248.25 339.75L249.34 346.81L250.42 337.40L251.51 349.19L252.59 361.73L253.68 294.50L254.77 364.40L255.85 357.92L256.94 364.60L258.03 331.90L259.12 363.60L260.20 355.06L261.29 349.60L262.38 337.40L263.46 366.28L264.55 355.57L265.64 368.55L266.72 339.60L267.81 349.17L268.90 357.80L269.98 347.89L271.07 333.00L272.16 345.84L273.24 372.96L274.33 366.25L275.42 353.90L276.50 375.98L277.59 375.11L278.68 376.37L279.76 355.00L280.85 376.03L281.94 375.79L283.02 353.15L284.11 318.70L285.20 352.68L286.29 337.40L287.37 346.29L288.46 353.96L289.55 318.70L290.63 354.29L291.72 354.45L292.81 337.40L293.89 378.34L294.98 362.35L296.07 376.89L297.15 350.60L298.24 379.12L299.33 367.69L300.41 368.40L301.50 376.28L301.50 391.50Z" fill="#5470c8"/>
<path d="M38.50 391.50L38.50 391.30L39.59 391.29L40.67 391.28L41.76 391.27L42.85 391.26L43.93 391.25L45.02 391.24L46.11 391.23L47.19 391.22L48.28 391.21L49.37 391.20L50.45 391.19L51.54 391.18L52.63 391.17L53.72 391.16L54.80 391.14L55.89 391.13L56.98 391.12L58.06 391.11L59.15 391.10L60.24 391.09L61.32 391.08L62.41 391.07L63.50 391.06L64.58 391.05L65.67 391.04L66.76 391.03L67.84 391.02L68.93 391.01L70.02 391.00L71.10 390.89L72.19 390.78L73.28 390.67L74.36 390.56L75.45 390.45L76.54 390.35L77.62 390.24L78.71 390.13L79.80 390.02L80.88 389.91L81.97 389.80L83.06 389.69L84.14 389.59L85.23 389.48L86.32 389.37L87.41 389.26L88.49 389.15L89.58 389.04L90.67 389.00L91.75 389.00L92.84 389.00L93.93 389.00L95.01 389.00L96.10 389.00L97.19 389.00L98.27 389.00L99.36 389.00L100.45 389.00L101.53 389.00L102.62 389.00L103.71 389.00L104.79 389.00L105.88 389.00L106.97 389.00L108.05 389.00L109.14 389.00L110.23 388.95L111.31 388.72L112.40 388.50L113.49 388.27L114.57 388.04L115.66 387.81L116.75 387.58L117.83 387.35L118.92 387.13L120.01 386.90L121.09 386.90L122.18 386.90L123.27 386.90L124.36 386.90L125.44 386.90L126.53 386.90L127.62 386.90L128.70 386.90L129.79 386.90L130.88 386.90L131.96 386.90L133.05 386.90L134.14 386.88L135.22 378.00L136.31 386.48L137.40 386.28L138.48 386.08L139.57 385.88L140.66 385.80L141.74 385.80L142.83 385.80L143.92 385.80L145.00 385.80L146.09 385.80L147.18 385.80L148.26 385.80L149.35 385.80L150.44 385.80L151.53 385.80L152.61 385.80L153.70 385.80L154.78 385.80L155.87 385.80L156.96 385.80L158.04 385.75L159.13 384.55L160.22 383.36L161.31 382.16L162.39 380.97L163.48 380.38L164.57 380.55L165.65 380.72L166.74 380.89L167.83 381.06L168.91 381.23L170.00 381.40L171.09 381.51L172.17 381.62L173.26 381.73L174.35 381.83L175.43 381.61L176.52 380.87L177.61 380.13L178.69 379.39L179.78 378.66L180.87 378.24L181.96 378.81L183.04 379.37L184.13 379.94L185.22 380.52L186.30 381.72L187.39 382.93L188.47 384.13L189.56 385.34L190.65 384.32L191.74 382.67L192.82 381.03L193.91 379.80L195.00 379.25L196.08 378.71L197.17 378.17L198.26 377.62L199.34 376.84L200.43 375.22L201.52 373.61L202.60 371.99L203.69 370.14L204.78 368.23L205.86 366.32L206.95 365.20L208.04 365.20L209.12 365.20L210.21 365.20L211.30 365.20L212.38 365.31L213.47 365.74L214.56 366.16L215.65 366.59L216.73 367.04L217.82 368.58L218.91 370.12L219.99 371.65L221.08 373.19L222.16 371.21L223.25 368.34L224.34 365.80L225.43 364.45L226.51 363.10L227.60 361.75L228.69 360.63L229.77 359.57L230.86 358.51L231.95 357.44L233.03 357.95L234.12 360.08L235.21 362.22L236.29 363.63L237.38 364.99L238.47 366.34L239.55 367.55L240.64 368.64L241.73 369.73L242.81 370.87L243.90 372.52L244.99 374.16L246.07 375.81L247.16 376.88L248.25 377.70L249.34 378.52L250.42 378.90L251.51 378.24L252.59 377.58L253.68 376.92L254.77 376.33L255.85 376.86L256.94 377.39L258.03 377.92L259.12 379.76L260.20 382.28L261.29 384.60L262.38 384.60L263.46 384.60L264.55 384.60L265.64 384.60L266.72 384.60L267.81 384.61L268.90 384.76L269.98 384.91L271.07 385.06L272.16 385.20L273.24 385.35L274.33 385.50L275.42 385.68L276.50 385.94L277.59 386.21L278.68 386.47L279.76 386.73L280.85 387.00L281.94 387.26L283.02 387.53L284.11 387.81L285.20 388.09L286.29 388.37L287.37 388.65L288.46 388.93L289.55 389.21L290.63 389.36L291.72 389.44L292.81 389.53L293.89 389.61L294.98 389.69L296.07 389.78L297.15 389.86L298.24 389.95L299.33 390.03L300.41 390.12L301.50 390.20L301.50 391.50Z" fill="#bcd8fd"/>
<path d="M38.50 383.60L52.30 379.20L60.00 373.70L71.00 366.00L82.00 359.40L93.00 352.80L104.00 345.10L115.00 340.70L126.00 336.30L134.80 333.00L145.80 327.50L156.80 323.10L170.00 318.70L181.00 314.30L192.00 308.80L203.00 303.30L214.00 297.80L225.00 291.20L236.00 285.70L247.00 280.20L258.00 273.60L269.00 268.10L280.00 263.70L291.00 256.00L299.80 252.70" fill="none" stroke="#2040b8" stroke-width="1.15" stroke-linejoin="round"/>
<path d="M38.50 384.20L82.00 384.00L104.00 382.50L135.00 380.30L170.00 378.00L192.00 374.80L214.00 369.30L231.60 362.70L247.00 356.10L262.40 352.80L280.00 351.20L299.80 350.60" fill="none" stroke="#a6cdfe" stroke-width="1.1" stroke-linejoin="round"/>
</g>
<text x="10.00" y="226.90" font-family="Liberation Serif" font-weight="bold" font-size="10.6">b<tspan font-size="7.2" dy="2.8">1</tspan><tspan dy="-3.7">)</tspan></text>
<text x="170.00" y="241.60" font-size="9.33" text-anchor="middle" fill="#000" stroke="#000" stroke-width="0.200" font-weight="bold" textLength="142.40" lengthAdjust="spacingAndGlyphs">Tillouguite (&lt;=2500 m.a.s.l.)</text>
<text x="39.10" y="244.10" font-size="9.37" fill="#1a1a1a" textLength="18.66" lengthAdjust="spacingAndGlyphs">×10</text><text x="58.06" y="240.50" font-size="6.56" fill="#1a1a1a">6</text>
<text x="278.91" y="244.10" font-size="9.37" fill="#0000ff" textLength="18.66" lengthAdjust="spacingAndGlyphs">×10</text><text x="297.86" y="240.50" font-size="6.56" fill="#0000ff">8</text>
<text x="33.50" y="395.00" font-size="9.01" text-anchor="end" fill="#1a1a1a" stroke="#1a1a1a" stroke-width="0.200" textLength="5.41" lengthAdjust="spacingAndGlyphs">0</text>
<text x="33.50" y="364.95" font-size="9.01" text-anchor="end" fill="#1a1a1a" stroke="#1a1a1a" stroke-width="0.200" textLength="5.41" lengthAdjust="spacingAndGlyphs">1</text>
<text x="33.50" y="334.90" font-size="9.01" text-anchor="end" fill="#1a1a1a" stroke="#1a1a1a" stroke-width="0.200" textLength="5.41" lengthAdjust="spacingAndGlyphs">2</text>
<text x="33.50" y="304.85" font-size="9.01" text-anchor="end" fill="#1a1a1a" stroke="#1a1a1a" stroke-width="0.200" textLength="5.41" lengthAdjust="spacingAndGlyphs">3</text>
<text x="33.50" y="274.80" font-size="9.01" text-anchor="end" fill="#1a1a1a" stroke="#1a1a1a" stroke-width="0.200" textLength="5.41" lengthAdjust="spacingAndGlyphs">4</text>
<text x="306.90" y="388.10" font-size="9.01" text-anchor="start" fill="#0000ff" stroke="#0000ff" stroke-width="0.140" textLength="13.52" lengthAdjust="spacingAndGlyphs">0.0</text>
<text x="306.90" y="362.75" font-size="9.01" text-anchor="start" fill="#0000ff" stroke="#0000ff" stroke-width="0.140" textLength="13.52" lengthAdjust="spacingAndGlyphs">0.5</text>
<text x="306.90" y="337.40" font-size="9.01" text-anchor="start" fill="#0000ff" stroke="#0000ff" stroke-width="0.140" textLength="13.52" lengthAdjust="spacingAndGlyphs">1.0</text>
<text x="306.90" y="312.05" font-size="9.01" text-anchor="start" fill="#0000ff" stroke="#0000ff" stroke-width="0.140" textLength="13.52" lengthAdjust="spacingAndGlyphs">1.5</text>
<text x="306.90" y="286.70" font-size="9.01" text-anchor="start" fill="#0000ff" stroke="#0000ff" stroke-width="0.140" textLength="13.52" lengthAdjust="spacingAndGlyphs">2.0</text>
<text x="306.90" y="261.35" font-size="9.01" text-anchor="start" fill="#0000ff" stroke="#0000ff" stroke-width="0.140" textLength="13.52" lengthAdjust="spacingAndGlyphs">2.5</text>
<text x="38.50" y="403.10" font-size="9.01" text-anchor="middle" fill="#1a1a1a" stroke="#1a1a1a" stroke-width="0.200" textLength="14.70" lengthAdjust="spacingAndGlyphs">Oct</text>
<text x="72.01" y="403.10" font-size="9.01" text-anchor="middle" fill="#1a1a1a" stroke="#1a1a1a" stroke-width="0.200" textLength="16.59" lengthAdjust="spacingAndGlyphs">Nov</text>
<text x="103.46" y="403.10" font-size="9.01" text-anchor="middle" fill="#1a1a1a" stroke="#1a1a1a" stroke-width="0.200" textLength="16.45" lengthAdjust="spacingAndGlyphs">Dec</text>
<text x="135.26" y="403.10" font-size="9.01" text-anchor="middle" fill="#1a1a1a" stroke="#1a1a1a" stroke-width="0.200" textLength="13.10" lengthAdjust="spacingAndGlyphs">Jan</text>
<text x="168.95" y="403.10" font-size="9.01" text-anchor="middle" fill="#1a1a1a" stroke="#1a1a1a" stroke-width="0.200" textLength="15.05" lengthAdjust="spacingAndGlyphs">Feb</text>
<text x="201.03" y="403.10" font-size="9.01" text-anchor="middle" fill="#1a1a1a" stroke="#1a1a1a" stroke-width="0.200" textLength="16.04" lengthAdjust="spacingAndGlyphs">Mar</text>
<text x="233.54" y="403.10" font-size="9.01" text-anchor="middle" fill="#1a1a1a" stroke="#1a1a1a" stroke-width="0.200" textLength="14.71" lengthAdjust="spacingAndGlyphs">Apr</text>
<text x="266.97" y="403.10" font-size="9.01" text-anchor="middle" fill="#1a1a1a" stroke="#1a1a1a" stroke-width="0.200" textLength="17.57" lengthAdjust="spacingAndGlyphs">May</text>
<path d="M38.50 391.40h-2.6 M38.50 361.35h-2.6 M38.50 331.30h-2.6 M38.50 301.25h-2.6 M38.50 271.20h-2.6 M301.50 384.60h2.6 M301.50 359.25h2.6 M301.50 333.90h2.6 M301.50 308.55h2.6 M301.50 283.20h2.6 M301.50 257.85h2.6 M38.50 391.50v2.6 M72.01 391.50v2.6 M103.46 391.50v2.6 M135.26 391.50v2.6 M168.95 391.50v2.6 M201.03 391.50v2.6 M233.54 391.50v2.6 M266.97 391.50v2.6" stroke="#444" stroke-width="0.75" fill="none"/>
<text x="24.00" y="318.15" font-size="8.75" text-anchor="middle" fill="#1a1a1a" stroke="#1a1a1a" stroke-width="0.200" textLength="115.65" lengthAdjust="spacingAndGlyphs" transform="rotate(-90 24.00 318.15)">Contribution to outflow (m³)</text>
<text x="329.50" y="317.65" font-size="8.75" text-anchor="middle" fill="#0000ff" stroke="#0000ff" stroke-width="0.140" textLength="100.61" lengthAdjust="spacingAndGlyphs" transform="rotate(-90 329.50 317.65)">Cumulative outflow (m³)</text>
<rect x="38.50" y="246.00" width="263.00" height="145.50" fill="none" stroke="#2a2a2a" stroke-width="0.9"/>
<clipPath id="clipb2"><rect x="383" y="246" width="254.5" height="145.5"/></clipPath>
<g clip-path="url(#clipb2)">
<path d="M383.00 391.50L383.00 342.56L384.05 331.90L385.10 372.89L386.15 355.00L387.21 360.84L388.26 359.40L389.31 351.70L390.36 344.37L391.41 312.10L392.46 344.53L393.52 358.41L394.57 361.60L395.62 372.73L396.67 359.73L397.72 372.78L398.77 327.50L399.83 350.40L400.88 347.93L401.93 331.58L402.98 331.55L404.03 260.40L405.08 331.49L406.14 315.40L407.19 368.55L408.24 346.42L409.29 303.30L410.34 346.36L411.39 349.04L412.45 351.70L413.50 355.60L414.55 350.45L415.60 335.20L416.65 367.91L417.70 366.89L418.76 338.16L419.81 317.60L420.86 351.25L421.91 366.18L422.96 357.20L424.01 361.82L425.07 358.71L426.12 367.75L427.17 349.85L428.22 339.60L429.27 359.71L430.32 355.00L431.38 355.29L432.43 346.15L433.48 341.74L434.53 327.50L435.58 366.56L436.63 346.20L437.69 353.20L438.74 361.53L439.79 355.00L440.84 356.39L441.89 347.81L442.94 342.80L444.00 329.70L445.05 365.66L446.10 355.20L447.15 368.01L448.20 368.20L449.25 364.74L450.31 373.76L451.36 363.79L452.41 356.10L453.46 373.14L454.51 365.13L455.56 367.94L456.62 368.45L457.67 364.90L458.72 372.98L459.77 370.37L460.82 373.21L461.87 366.00L462.93 374.08L463.98 370.84L465.03 374.41L466.08 359.22L467.13 350.60L468.18 359.77L469.24 366.87L470.29 368.52L471.34 363.80L472.39 366.27L473.44 369.57L474.49 362.08L475.55 347.36L476.60 294.50L477.65 347.46L478.70 362.12L479.75 368.20L480.80 370.25L481.86 373.37L482.91 370.13L483.96 364.90L485.01 373.73L486.06 373.57L487.11 367.67L488.17 370.70L489.22 373.00L490.27 371.50L491.32 371.75L492.37 369.77L493.42 367.30L494.48 360.38L495.53 359.07L496.58 342.90L497.63 358.87L498.68 362.69L499.73 368.69L500.79 364.90L501.84 366.91L502.89 365.31L503.94 367.11L504.99 364.90L506.04 371.39L507.10 369.22L508.00 359.40L508.15 358.60L509.20 361.49L510.25 369.41L511.30 366.76L512.35 376.44L512.40 363.80L513.40 372.62L514.46 359.05L515.51 357.35L515.70 357.20L516.56 359.33L517.61 361.62L518.66 363.39L519.00 364.90L519.72 362.32L520.77 360.66L521.82 358.05L522.87 368.18L523.40 352.80L523.92 352.49L524.97 352.08L526.02 352.11L527.08 351.65L527.80 350.60L528.13 350.35L529.18 353.18L530.23 353.52L531.10 355.00L531.28 353.66L532.34 351.59L533.39 346.39L534.40 344.00L534.44 343.10L535.49 342.72L536.54 339.61L537.59 337.93L537.70 338.50L538.64 330.79L539.70 321.70L540.00 318.10L540.75 317.52L541.80 315.10L542.85 314.46L542.90 313.70L543.90 313.43L544.96 319.21L545.10 311.50L546.01 312.24L547.06 327.81L547.30 315.20L548.11 316.56L549.16 340.36L549.50 321.00L550.21 329.23L551.26 314.46L551.70 313.70L552.32 323.53L553.37 317.29L553.90 318.10L554.42 318.22L555.47 316.25L556.10 316.60L556.52 315.04L557.57 311.62L558.20 309.30L558.63 312.51L559.68 317.98L560.40 321.00L560.73 318.25L561.78 312.72L562.60 309.30L562.83 316.48L563.88 299.53L564.80 291.80L564.94 309.05L565.99 286.87L566.30 285.90L567.04 274.43L567.70 265.50L568.09 269.61L569.14 279.93L569.20 281.50L570.19 281.35L571.25 254.76L571.40 253.80L572.30 270.65L572.80 278.60L573.35 286.47L574.40 282.21L575.00 283.00L575.45 285.19L576.50 286.91L577.20 288.90L577.56 287.79L578.61 284.26L579.40 281.50L579.66 281.58L580.71 299.03L581.60 283.00L581.76 284.07L582.81 287.64L583.80 293.20L583.87 293.10L584.92 296.28L585.97 289.76L586.00 290.30L587.02 298.05L588.07 275.54L588.20 274.20L589.12 272.42L590.18 289.91L590.40 271.30L591.23 273.76L592.28 276.90L592.60 278.60L593.33 273.01L594.30 266.90L594.38 267.31L595.43 283.02L596.20 274.20L596.49 277.17L597.54 287.52L597.70 288.90L598.59 276.82L599.60 262.50L599.64 263.22L600.69 283.86L601.30 294.70L601.74 294.68L602.79 295.80L603.85 296.99L604.20 297.60L604.90 298.64L605.95 299.31L606.40 300.60L607.00 292.67L607.90 280.10L608.05 281.34L609.11 298.01L610.10 293.20L610.16 302.06L611.21 289.28L612.26 287.12L612.30 287.40L613.31 291.63L614.36 296.09L614.50 296.20L615.41 300.21L616.47 306.21L616.60 306.40L617.52 293.93L618.57 268.46L618.80 264.00L619.62 264.13L620.30 265.50L620.67 273.44L621.73 312.37L621.80 296.20L622.78 301.66L623.83 295.36L623.90 285.90L624.88 284.61L625.93 270.17L626.10 269.90L626.98 283.04L628.03 299.84L628.30 303.50L629.09 309.74L630.14 318.35L630.50 321.00L631.19 337.24L632.24 324.95L632.70 326.90L633.29 324.23L634.35 320.62L634.90 318.10L635.40 320.30L636.45 325.18L637.50 328.60L637.50 391.50Z" fill="#5470c8"/>
<path d="M383.00 391.50L383.00 391.30L384.05 391.28L385.10 391.27L386.15 391.25L387.21 391.24L388.26 391.22L389.31 391.21L390.36 391.19L391.41 391.18L392.46 391.16L393.52 391.15L394.57 391.13L395.62 391.12L396.67 391.10L397.72 391.09L398.77 391.07L399.83 391.06L400.88 391.04L401.93 391.03L402.98 391.01L404.03 390.99L405.08 390.70L406.14 390.42L407.19 390.13L408.24 389.84L409.29 389.56L410.34 389.27L411.39 388.98L412.45 388.70L413.50 388.41L414.55 388.12L415.60 387.97L416.65 387.92L417.70 387.86L418.76 387.81L419.81 387.76L420.86 387.71L421.91 387.65L422.96 387.60L424.01 387.55L425.07 387.50L426.12 387.44L427.17 387.39L428.22 387.34L429.27 387.29L430.32 387.23L431.38 387.18L432.43 387.13L433.48 387.08L434.53 387.02L435.58 386.97L436.63 386.92L437.69 386.76L438.74 386.55L439.79 386.34L440.84 386.13L441.89 385.92L442.94 385.71L444.00 385.50L445.05 385.29L446.10 385.08L447.15 384.87L448.20 384.66L449.25 384.45L450.31 384.24L451.36 384.03L452.41 383.82L453.46 383.61L454.51 383.40L455.56 383.19L456.62 382.98L457.67 382.77L458.72 382.56L459.77 382.73L460.82 383.05L461.87 383.36L462.93 383.68L463.98 383.99L465.03 384.31L466.08 384.62L467.13 384.94L468.18 385.26L469.24 385.57L470.29 385.71L471.34 385.40L472.39 385.08L473.44 384.77L474.49 384.45L475.55 384.14L476.60 377.00L477.65 383.51L478.70 383.19L479.75 382.87L480.80 382.56L481.86 382.41L482.91 382.31L483.96 382.20L485.01 382.10L486.06 381.99L487.11 381.89L488.17 381.78L489.22 381.68L490.27 381.57L491.32 381.47L492.37 381.15L493.42 380.45L494.48 379.75L495.53 379.05L496.58 378.35L497.63 377.65L498.68 376.99L499.73 376.87L500.79 376.74L501.84 376.62L502.89 376.50L503.94 376.38L504.99 376.25L506.04 376.13L507.10 376.01L508.00 375.90L508.15 375.92L509.20 376.05L510.25 376.18L511.30 376.31L512.35 376.44L512.40 376.45L513.40 376.58L514.46 376.71L515.51 376.84L515.70 376.86L516.56 376.97L517.61 376.73L518.66 376.38L519.00 376.27L519.72 376.03L520.77 375.68L521.82 375.33L522.87 374.98L523.40 374.80L523.92 375.32L524.97 376.37L526.02 377.43L527.08 378.48L527.80 379.20L528.13 379.53L529.18 380.58L530.23 380.88L531.10 378.92L531.28 378.51L532.34 376.15L533.39 373.78L534.40 371.50L534.44 371.42L535.49 369.14L536.54 366.86L537.59 364.58L537.70 364.35L538.64 362.30L539.70 360.03L540.00 359.37L540.75 357.75L541.80 354.40L542.85 350.72L542.90 350.55L543.90 347.04L544.96 343.36L545.10 342.85L546.01 342.28L547.06 343.13L547.30 343.32L548.11 343.97L549.16 344.81L549.50 345.08L550.21 345.65L551.26 346.75L551.70 347.40L552.32 348.32L553.37 349.90L553.90 350.70L554.42 351.48L555.47 352.89L556.10 353.20L556.52 353.41L557.57 353.94L558.20 354.25L558.63 354.46L559.68 354.99L560.40 351.50L560.73 349.86L561.78 344.60L562.60 340.50L562.83 339.34L563.88 334.08L564.80 329.85L564.94 329.24L565.99 324.50L566.30 323.10L567.04 319.77L567.70 316.80L568.09 315.04L569.14 310.63L569.20 310.40L570.19 306.42L571.25 306.22L571.40 306.73L572.30 309.73L572.80 311.40L573.35 313.23L574.40 316.00L575.00 316.90L575.45 317.58L576.50 319.16L577.20 320.20L577.56 320.73L578.61 322.31L579.40 323.50L579.66 323.89L580.71 325.47L581.60 326.80L581.76 327.04L582.81 328.64L583.80 331.27L583.87 331.44L584.92 334.25L585.97 337.05L586.00 337.13L587.02 335.56L588.07 333.46L588.20 333.20L589.12 331.35L590.18 329.25L590.40 328.80L591.23 326.42L592.28 323.26L592.60 322.30L593.33 320.11L594.30 317.20L594.38 316.95L595.43 316.11L596.20 317.13L596.49 317.51L597.54 318.92L597.70 319.13L598.59 321.75L599.60 326.80L599.64 327.00L600.69 332.26L601.30 335.30L601.74 337.52L602.79 342.71L603.85 347.62L604.20 349.27L604.90 352.53L605.95 356.90L606.40 354.20L607.00 350.59L607.90 345.20L608.05 344.28L609.11 337.97L610.10 335.60L610.16 335.49L611.21 333.38L612.26 331.28L612.30 331.20L613.31 329.18L614.36 329.75L614.50 329.95L615.41 331.32L616.47 332.90L616.60 333.10L617.52 334.48L618.57 336.63L618.80 337.20L619.62 339.25L620.30 340.95L620.67 341.88L621.73 344.51L621.80 344.70L622.78 346.95L623.83 349.06L623.90 349.20L624.88 351.16L625.93 353.26L626.10 353.60L626.98 355.37L628.03 357.47L628.30 358.00L629.09 359.57L630.14 361.68L630.50 362.40L631.19 363.78L632.24 363.07L632.70 362.75L633.29 362.34L634.35 361.60L634.90 361.22L635.40 360.87L636.45 360.13L637.50 359.40L637.50 391.50Z" fill="#bcd8fd"/>
<path d="M383.00 383.60L390.80 378.00L398.50 374.80L404.00 369.30L409.50 362.70L417.20 356.10L426.00 352.80L434.80 348.40L443.60 344.00L454.60 340.70L465.60 337.40L476.60 333.00L487.60 329.70L498.60 326.80L508.00 325.30L519.00 322.00L530.00 317.60L541.00 313.20L552.00 307.70L563.00 302.20L574.00 296.70L585.00 290.10L596.00 283.50L607.00 274.70L618.00 268.10L624.60 261.50L635.60 252.70" fill="none" stroke="#2040b8" stroke-width="1.15" stroke-linejoin="round"/>
<path d="M383.00 384.20L426.00 383.10L448.00 381.40L476.60 378.70L492.00 376.30L508.00 373.70L519.00 371.50L530.00 369.30L541.00 363.80L552.00 355.00L563.00 346.20L574.00 335.20L585.00 322.00L596.00 311.00L607.00 302.20L618.00 293.40L626.80 287.90L635.60 285.70" fill="none" stroke="#a6cdfe" stroke-width="1.1" stroke-linejoin="round"/>
</g>
<text x="348.00" y="226.90" font-family="Liberation Serif" font-weight="bold" font-size="10.6">b<tspan font-size="7.2" dy="2.8">2</tspan><tspan dy="-3.7">)</tspan></text>
<text x="510.25" y="241.60" font-size="9.33" text-anchor="middle" fill="#000" stroke="#000" stroke-width="0.200" font-weight="bold" textLength="135.89" lengthAdjust="spacingAndGlyphs">Tillouguite (&gt;2500 m.a.s.l.)</text>
<text x="383.60" y="244.10" font-size="9.37" fill="#1a1a1a" textLength="18.66" lengthAdjust="spacingAndGlyphs">×10</text><text x="402.56" y="240.50" font-size="6.56" fill="#1a1a1a">6</text>
<text x="614.91" y="244.10" font-size="9.37" fill="#0000ff" textLength="18.66" lengthAdjust="spacingAndGlyphs">×10</text><text x="633.86" y="240.50" font-size="6.56" fill="#0000ff">8</text>
<text x="378.00" y="395.00" font-size="9.01" text-anchor="end" fill="#1a1a1a" stroke="#1a1a1a" stroke-width="0.200" textLength="13.52" lengthAdjust="spacingAndGlyphs">0.0</text>
<text x="378.00" y="369.95" font-size="9.01" text-anchor="end" fill="#1a1a1a" stroke="#1a1a1a" stroke-width="0.200" textLength="13.52" lengthAdjust="spacingAndGlyphs">0.5</text>
<text x="378.00" y="344.90" font-size="9.01" text-anchor="end" fill="#1a1a1a" stroke="#1a1a1a" stroke-width="0.200" textLength="13.52" lengthAdjust="spacingAndGlyphs">1.0</text>
<text x="378.00" y="319.85" font-size="9.01" text-anchor="end" fill="#1a1a1a" stroke="#1a1a1a" stroke-width="0.200" textLength="13.52" lengthAdjust="spacingAndGlyphs">1.5</text>
<text x="378.00" y="294.80" font-size="9.01" text-anchor="end" fill="#1a1a1a" stroke="#1a1a1a" stroke-width="0.200" textLength="13.52" lengthAdjust="spacingAndGlyphs">2.0</text>
<text x="378.00" y="269.75" font-size="9.01" text-anchor="end" fill="#1a1a1a" stroke="#1a1a1a" stroke-width="0.200" textLength="13.52" lengthAdjust="spacingAndGlyphs">2.5</text>
<text x="642.90" y="388.10" font-size="9.01" text-anchor="start" fill="#0000ff" stroke="#0000ff" stroke-width="0.140" textLength="18.93" lengthAdjust="spacingAndGlyphs">0.00</text>
<text x="642.90" y="366.48" font-size="9.01" text-anchor="start" fill="#0000ff" stroke="#0000ff" stroke-width="0.140" textLength="18.93" lengthAdjust="spacingAndGlyphs">0.25</text>
<text x="642.90" y="344.86" font-size="9.01" text-anchor="start" fill="#0000ff" stroke="#0000ff" stroke-width="0.140" textLength="18.93" lengthAdjust="spacingAndGlyphs">0.50</text>
<text x="642.90" y="323.24" font-size="9.01" text-anchor="start" fill="#0000ff" stroke="#0000ff" stroke-width="0.140" textLength="18.93" lengthAdjust="spacingAndGlyphs">0.75</text>
<text x="642.90" y="301.62" font-size="9.01" text-anchor="start" fill="#0000ff" stroke="#0000ff" stroke-width="0.140" textLength="18.93" lengthAdjust="spacingAndGlyphs">1.00</text>
<text x="642.90" y="280.00" font-size="9.01" text-anchor="start" fill="#0000ff" stroke="#0000ff" stroke-width="0.140" textLength="18.93" lengthAdjust="spacingAndGlyphs">1.25</text>
<text x="642.90" y="258.38" font-size="9.01" text-anchor="start" fill="#0000ff" stroke="#0000ff" stroke-width="0.140" textLength="18.93" lengthAdjust="spacingAndGlyphs">1.50</text>
<text x="383.00" y="403.10" font-size="9.01" text-anchor="middle" fill="#1a1a1a" stroke="#1a1a1a" stroke-width="0.200" textLength="14.70" lengthAdjust="spacingAndGlyphs">Oct</text>
<text x="415.42" y="403.10" font-size="9.01" text-anchor="middle" fill="#1a1a1a" stroke="#1a1a1a" stroke-width="0.200" textLength="16.59" lengthAdjust="spacingAndGlyphs">Nov</text>
<text x="445.86" y="403.10" font-size="9.01" text-anchor="middle" fill="#1a1a1a" stroke="#1a1a1a" stroke-width="0.200" textLength="16.45" lengthAdjust="spacingAndGlyphs">Dec</text>
<text x="476.63" y="403.10" font-size="9.01" text-anchor="middle" fill="#1a1a1a" stroke="#1a1a1a" stroke-width="0.200" textLength="13.10" lengthAdjust="spacingAndGlyphs">Jan</text>
<text x="509.23" y="403.10" font-size="9.01" text-anchor="middle" fill="#1a1a1a" stroke="#1a1a1a" stroke-width="0.200" textLength="15.05" lengthAdjust="spacingAndGlyphs">Feb</text>
<text x="540.28" y="403.10" font-size="9.01" text-anchor="middle" fill="#1a1a1a" stroke="#1a1a1a" stroke-width="0.200" textLength="16.04" lengthAdjust="spacingAndGlyphs">Mar</text>
<text x="571.74" y="403.10" font-size="9.01" text-anchor="middle" fill="#1a1a1a" stroke="#1a1a1a" stroke-width="0.200" textLength="14.71" lengthAdjust="spacingAndGlyphs">Apr</text>
<text x="604.08" y="403.10" font-size="9.01" text-anchor="middle" fill="#1a1a1a" stroke="#1a1a1a" stroke-width="0.200" textLength="17.57" lengthAdjust="spacingAndGlyphs">May</text>
<path d="M383.00 391.40h-2.6 M383.00 366.35h-2.6 M383.00 341.30h-2.6 M383.00 316.25h-2.6 M383.00 291.20h-2.6 M383.00 266.15h-2.6 M637.50 384.60h2.6 M637.50 362.98h2.6 M637.50 341.36h2.6 M637.50 319.74h2.6 M637.50 298.12h2.6 M637.50 276.50h2.6 M637.50 254.88h2.6 M383.00 391.50v2.6 M415.42 391.50v2.6 M445.86 391.50v2.6 M476.63 391.50v2.6 M509.23 391.50v2.6 M540.28 391.50v2.6 M571.74 391.50v2.6 M604.08 391.50v2.6" stroke="#444" stroke-width="0.75" fill="none"/>
<text x="359.30" y="318.15" font-size="8.75" text-anchor="middle" fill="#1a1a1a" stroke="#1a1a1a" stroke-width="0.200" textLength="115.65" lengthAdjust="spacingAndGlyphs" transform="rotate(-90 359.30 318.15)">Contribution to outflow (m³)</text>
<text x="671.10" y="317.65" font-size="8.75" text-anchor="middle" fill="#0000ff" stroke="#0000ff" stroke-width="0.140" textLength="100.61" lengthAdjust="spacingAndGlyphs" transform="rotate(-90 671.10 317.65)">Cumulative outflow (m³)</text>
<rect x="383.00" y="246.00" width="254.50" height="145.50" fill="none" stroke="#2a2a2a" stroke-width="0.9"/>
<clipPath id="clipc1"><rect x="38.5" y="446.5" width="263.0" height="145.0"/></clipPath>
<g clip-path="url(#clipc1)">
<path d="M38.50 591.50L38.50 581.00L39.59 579.85L40.67 518.70L41.76 559.09L42.85 579.73L43.93 577.00L45.02 573.95L46.11 567.58L47.19 559.40L48.28 579.47L49.37 573.74L50.45 572.60L51.54 572.41L52.63 578.65L53.72 539.60L54.80 566.35L55.89 566.56L56.98 557.20L58.06 577.59L59.15 535.09L60.24 454.90L61.32 532.98L62.41 481.30L63.50 541.53L64.58 544.27L65.67 530.80L66.76 548.66L67.84 573.03L68.93 550.91L70.02 522.00L71.10 550.85L72.19 558.03L73.28 559.40L74.36 573.12L75.45 552.90L76.54 536.30L77.62 552.84L78.71 558.58L79.80 566.14L80.88 559.25L81.97 560.83L83.06 571.14L84.14 520.90L85.23 542.14L86.32 554.79L87.41 558.49L88.49 559.40L89.58 570.64L90.67 570.85L91.75 544.57L92.84 544.55L93.93 491.20L95.01 544.52L96.10 539.60L97.19 535.63L98.27 465.90L99.36 535.60L100.45 572.23L101.53 524.20L102.62 571.80L103.71 552.27L104.79 563.36L105.88 562.82L106.97 558.80L108.05 558.94L109.14 564.31L110.23 561.55L111.31 571.44L112.40 513.20L113.49 552.81L114.57 552.90L115.66 565.47L116.75 572.89L117.83 564.90L118.92 566.87L120.01 567.15L121.09 564.45L122.18 568.44L123.27 560.50L124.36 564.29L125.44 569.05L126.53 568.99L127.62 566.83L128.70 565.32L129.79 572.27L130.88 565.30L131.96 575.27L133.05 576.52L134.14 560.64L135.22 556.10L136.31 565.75L137.40 574.35L138.48 574.14L139.57 540.70L140.66 559.64L141.74 575.71L142.83 528.60L143.92 576.04L145.00 575.34L146.09 576.01L147.18 568.98L148.26 568.20L149.35 565.32L150.44 576.20L151.53 555.11L152.61 537.40L153.70 561.98L154.78 565.74L155.87 574.24L156.96 550.60L158.04 576.83L159.13 567.72L160.22 570.29L161.31 566.15L162.39 561.60L163.48 574.41L164.57 567.50L165.65 560.29L166.74 551.70L167.83 560.88L168.91 576.52L170.00 533.00L171.09 552.78L172.17 562.30L173.26 558.56L174.35 544.00L175.43 575.78L176.52 559.88L177.61 574.92L178.69 573.80L179.78 568.20L180.87 568.13L181.96 569.33L183.04 565.42L184.13 561.35L185.22 539.60L186.30 555.84L187.39 575.12L188.47 562.37L189.56 575.07L190.65 540.37L191.74 515.40L192.82 574.16L193.91 559.53L195.00 567.52L196.08 556.60L197.17 536.30L198.26 571.68L199.34 561.18L200.43 570.15L201.52 557.03L202.60 517.60L203.69 573.32L204.78 562.14L205.86 572.05L206.95 546.20L208.04 557.51L209.12 546.20L210.21 553.15L211.30 552.57L212.38 555.60L213.47 528.60L214.56 547.70L215.65 555.79L216.73 551.97L217.82 554.13L218.91 565.74L219.99 548.03L221.08 529.70L222.16 550.30L223.25 543.97L224.34 566.80L225.43 513.20L226.51 564.22L227.60 537.89L228.69 517.60L229.77 534.20L230.86 543.35L231.95 543.01L233.03 515.40L234.12 563.93L235.21 565.26L236.29 485.70L237.38 534.70L238.47 545.30L239.55 551.54L240.64 519.80L241.73 553.55L242.81 572.37L243.90 563.32L244.99 555.35L246.07 539.60L247.16 559.27L248.25 566.47L249.34 565.67L250.42 558.30L251.51 567.46L252.59 563.90L253.68 557.20L254.77 565.05L255.85 570.87L256.94 561.56L258.03 525.30L259.12 574.99L260.20 567.82L261.29 565.70L262.38 556.10L263.46 561.78L264.55 551.64L265.64 538.50L266.72 550.53L267.81 579.55L268.90 559.20L269.98 544.00L271.07 556.70L272.16 568.10L273.24 575.50L274.33 578.05L275.42 568.20L276.50 572.41L277.59 571.10L278.68 564.90L279.76 561.11L280.85 551.11L281.94 524.20L283.02 551.52L284.11 555.00L285.20 566.37L286.29 548.40L287.37 560.33L288.46 571.35L289.55 575.14L290.63 559.40L291.72 568.22L292.81 582.15L293.89 561.60L294.98 569.71L296.07 582.18L297.15 577.00L298.24 579.47L299.33 582.50L300.41 577.88L301.50 580.29L301.50 591.50Z" fill="#5470c8"/>
<path d="M38.50 591.50L38.50 591.30L39.59 591.29L40.67 591.28L41.76 591.26L42.85 591.25L43.93 591.24L45.02 591.23L46.11 591.22L47.19 591.21L48.28 591.19L49.37 591.18L50.45 591.17L51.54 591.16L52.63 591.15L53.72 591.13L54.80 591.12L55.89 591.11L56.98 591.10L58.06 591.09L59.15 591.07L60.24 591.06L61.32 591.05L62.41 591.04L63.50 591.03L64.58 591.02L65.67 591.00L66.76 590.43L67.84 589.62L68.93 588.80L70.02 588.00L71.10 588.17L72.19 588.33L73.28 588.49L74.36 588.65L75.45 588.82L76.54 588.98L77.62 589.14L78.71 589.31L79.80 589.47L80.88 589.47L81.97 589.44L83.06 589.41L84.14 589.38L85.23 589.35L86.32 589.32L87.41 589.29L88.49 589.26L89.58 589.23L90.67 589.20L91.75 589.16L92.84 589.13L93.93 589.10L95.01 589.07L96.10 589.04L97.19 589.01L98.27 588.98L99.36 588.95L100.45 588.92L101.53 588.88L102.62 588.85L103.71 588.82L104.79 588.79L105.88 588.76L106.97 588.73L108.05 588.70L109.14 588.67L110.23 588.64L111.31 588.61L112.40 588.57L113.49 588.54L114.57 588.51L115.66 588.53L116.75 588.59L117.83 588.64L118.92 588.70L120.01 588.75L121.09 588.80L122.18 588.86L123.27 588.91L124.36 588.97L125.44 588.96L126.53 588.86L127.62 588.76L128.70 588.66L129.79 588.56L130.88 588.46L131.96 588.36L133.05 588.26L134.14 588.17L135.22 588.07L136.31 587.97L137.40 587.87L138.48 587.77L139.57 587.67L140.66 587.57L141.74 587.47L142.83 587.37L143.92 587.27L145.00 587.17L146.09 587.07L147.18 586.98L148.26 586.85L149.35 586.65L150.44 586.45L151.53 586.25L152.61 586.05L153.70 585.86L154.78 585.66L155.87 585.46L156.96 585.26L158.04 585.06L159.13 584.86L160.22 584.68L161.31 584.56L162.39 584.44L163.48 584.32L164.57 584.20L165.65 584.08L166.74 583.96L167.83 583.84L168.91 583.72L170.00 583.60L171.09 583.35L172.17 583.10L173.26 582.85L174.35 582.60L175.43 582.35L176.52 582.10L177.61 581.85L178.69 581.60L179.78 581.35L180.87 582.39L181.96 583.76L183.04 585.13L184.13 586.50L185.22 587.86L186.30 588.60L187.39 588.60L188.47 588.60L189.56 588.60L190.65 587.86L191.74 586.05L192.82 584.25L193.91 582.45L195.00 581.56L196.08 582.28L197.17 582.99L198.26 583.71L199.34 583.75L200.43 582.32L201.52 580.88L202.60 579.45L203.69 577.80L204.78 575.56L205.86 573.31L206.95 562.10L208.04 572.55L209.12 573.90L210.21 576.00L211.30 578.15L212.38 580.30L213.47 582.44L214.56 582.70L215.65 582.70L216.73 582.70L217.82 582.70L218.91 581.62L219.99 580.32L221.08 579.02L222.16 580.63L223.25 584.93L224.34 586.02L225.43 583.85L226.51 581.68L227.60 579.53L228.69 577.38L229.77 575.24L230.86 573.08L231.95 570.91L233.03 572.61L234.12 580.17L235.21 585.18L236.29 587.28L237.38 589.38L238.47 585.96L239.55 580.22L240.64 581.00L241.73 584.83L242.81 588.59L243.90 587.87L244.99 587.16L246.07 586.44L247.16 585.73L248.25 586.75L249.34 587.84L250.42 588.92L251.51 589.99L252.59 588.93L253.68 587.87L254.77 586.81L255.85 585.74L256.94 584.66L258.03 583.57L259.12 582.48L260.20 581.40L261.29 581.68L262.38 582.10L263.46 582.52L264.55 582.94L265.64 585.03L266.72 587.39L267.81 589.27L268.90 589.12L269.98 588.97L271.07 588.82L272.16 588.67L273.24 588.52L274.33 588.30L275.42 588.07L276.50 587.84L277.59 587.61L278.68 587.38L279.76 587.15L280.85 587.26L281.94 587.47L283.02 587.67L284.11 587.88L285.20 588.09L286.29 588.29L287.37 588.50L288.46 588.71L289.55 588.91L290.63 589.05L291.72 589.15L292.81 589.24L293.89 589.34L294.98 589.43L296.07 589.53L297.15 589.62L298.24 589.72L299.33 589.81L300.41 589.91L301.50 590.00L301.50 591.50Z" fill="#bcd8fd"/>
<path d="M38.50 582.50L44.60 580.90L53.40 578.00L60.00 572.60L66.60 565.50L73.20 562.70L82.00 558.30L90.80 553.90L99.60 544.00L110.60 539.60L126.00 534.10L137.00 531.90L145.80 527.50L159.00 523.10L170.00 519.80L181.00 514.30L192.00 507.70L203.00 501.10L214.00 495.60L225.00 489.00L236.00 480.20L247.00 473.60L258.00 468.10L269.00 462.60L280.00 459.30L291.00 454.90L299.80 452.70" fill="none" stroke="#2040b8" stroke-width="1.15" stroke-linejoin="round"/>
<path d="M38.50 584.20L82.00 584.00L126.00 582.50L148.00 581.40L170.00 579.20L192.00 577.00L203.00 575.90L214.00 572.60L231.60 569.30L242.60 567.10L258.00 566.40L271.20 565.50L299.80 565.50" fill="none" stroke="#a6cdfe" stroke-width="1.1" stroke-linejoin="round"/>
</g>
<text x="10.00" y="430.10" font-family="Liberation Serif" font-weight="bold" font-size="10.6">c<tspan font-size="7.2" dy="2.8">1</tspan><tspan dy="-3.7">)</tspan></text>
<text x="170.00" y="442.10" font-size="9.33" text-anchor="middle" fill="#000" stroke="#000" stroke-width="0.200" font-weight="bold" textLength="130.84" lengthAdjust="spacingAndGlyphs">Rheraya (&lt;=2500 m.a.s.l.)</text>
<text x="39.10" y="444.60" font-size="9.37" fill="#1a1a1a" textLength="18.66" lengthAdjust="spacingAndGlyphs">×10</text><text x="58.06" y="441.00" font-size="6.56" fill="#1a1a1a">5</text>
<text x="278.91" y="444.60" font-size="9.37" fill="#0000ff" textLength="18.66" lengthAdjust="spacingAndGlyphs">×10</text><text x="297.86" y="441.00" font-size="6.56" fill="#0000ff">7</text>
<text x="33.50" y="595.00" font-size="9.01" text-anchor="end" fill="#1a1a1a" stroke="#1a1a1a" stroke-width="0.200" textLength="5.41" lengthAdjust="spacingAndGlyphs">0</text>
<text x="33.50" y="563.70" font-size="9.01" text-anchor="end" fill="#1a1a1a" stroke="#1a1a1a" stroke-width="0.200" textLength="5.41" lengthAdjust="spacingAndGlyphs">1</text>
<text x="33.50" y="532.40" font-size="9.01" text-anchor="end" fill="#1a1a1a" stroke="#1a1a1a" stroke-width="0.200" textLength="5.41" lengthAdjust="spacingAndGlyphs">2</text>
<text x="33.50" y="501.10" font-size="9.01" text-anchor="end" fill="#1a1a1a" stroke="#1a1a1a" stroke-width="0.200" textLength="5.41" lengthAdjust="spacingAndGlyphs">3</text>
<text x="33.50" y="469.80" font-size="9.01" text-anchor="end" fill="#1a1a1a" stroke="#1a1a1a" stroke-width="0.200" textLength="5.41" lengthAdjust="spacingAndGlyphs">4</text>
<text x="306.90" y="588.60" font-size="9.01" text-anchor="start" fill="#0000ff" stroke="#0000ff" stroke-width="0.140" textLength="13.52" lengthAdjust="spacingAndGlyphs">0.0</text>
<text x="306.90" y="559.40" font-size="9.01" text-anchor="start" fill="#0000ff" stroke="#0000ff" stroke-width="0.140" textLength="13.52" lengthAdjust="spacingAndGlyphs">0.5</text>
<text x="306.90" y="530.20" font-size="9.01" text-anchor="start" fill="#0000ff" stroke="#0000ff" stroke-width="0.140" textLength="13.52" lengthAdjust="spacingAndGlyphs">1.0</text>
<text x="306.90" y="501.00" font-size="9.01" text-anchor="start" fill="#0000ff" stroke="#0000ff" stroke-width="0.140" textLength="13.52" lengthAdjust="spacingAndGlyphs">1.5</text>
<text x="306.90" y="471.80" font-size="9.01" text-anchor="start" fill="#0000ff" stroke="#0000ff" stroke-width="0.140" textLength="13.52" lengthAdjust="spacingAndGlyphs">2.0</text>
<text x="38.50" y="603.10" font-size="9.01" text-anchor="middle" fill="#1a1a1a" stroke="#1a1a1a" stroke-width="0.200" textLength="14.70" lengthAdjust="spacingAndGlyphs">Oct</text>
<text x="72.01" y="603.10" font-size="9.01" text-anchor="middle" fill="#1a1a1a" stroke="#1a1a1a" stroke-width="0.200" textLength="16.59" lengthAdjust="spacingAndGlyphs">Nov</text>
<text x="103.46" y="603.10" font-size="9.01" text-anchor="middle" fill="#1a1a1a" stroke="#1a1a1a" stroke-width="0.200" textLength="16.45" lengthAdjust="spacingAndGlyphs">Dec</text>
<text x="135.26" y="603.10" font-size="9.01" text-anchor="middle" fill="#1a1a1a" stroke="#1a1a1a" stroke-width="0.200" textLength="13.10" lengthAdjust="spacingAndGlyphs">Jan</text>
<text x="168.95" y="603.10" font-size="9.01" text-anchor="middle" fill="#1a1a1a" stroke="#1a1a1a" stroke-width="0.200" textLength="15.05" lengthAdjust="spacingAndGlyphs">Feb</text>
<text x="201.03" y="603.10" font-size="9.01" text-anchor="middle" fill="#1a1a1a" stroke="#1a1a1a" stroke-width="0.200" textLength="16.04" lengthAdjust="spacingAndGlyphs">Mar</text>
<text x="233.54" y="603.10" font-size="9.01" text-anchor="middle" fill="#1a1a1a" stroke="#1a1a1a" stroke-width="0.200" textLength="14.71" lengthAdjust="spacingAndGlyphs">Apr</text>
<text x="266.97" y="603.10" font-size="9.01" text-anchor="middle" fill="#1a1a1a" stroke="#1a1a1a" stroke-width="0.200" textLength="17.57" lengthAdjust="spacingAndGlyphs">May</text>
<path d="M38.50 591.40h-2.6 M38.50 560.10h-2.6 M38.50 528.80h-2.6 M38.50 497.50h-2.6 M38.50 466.20h-2.6 M301.50 585.10h2.6 M301.50 555.90h2.6 M301.50 526.70h2.6 M301.50 497.50h2.6 M301.50 468.30h2.6 M38.50 591.50v2.6 M72.01 591.50v2.6 M103.46 591.50v2.6 M135.26 591.50v2.6 M168.95 591.50v2.6 M201.03 591.50v2.6 M233.54 591.50v2.6 M266.97 591.50v2.6" stroke="#444" stroke-width="0.75" fill="none"/>
<text x="24.00" y="518.40" font-size="8.75" text-anchor="middle" fill="#1a1a1a" stroke="#1a1a1a" stroke-width="0.200" textLength="115.65" lengthAdjust="spacingAndGlyphs" transform="rotate(-90 24.00 518.40)">Contribution to outflow (m³)</text>
<text x="329.50" y="517.90" font-size="8.75" text-anchor="middle" fill="#0000ff" stroke="#0000ff" stroke-width="0.140" textLength="100.61" lengthAdjust="spacingAndGlyphs" transform="rotate(-90 329.50 517.90)">Cumulative outflow (m³)</text>
<rect x="38.50" y="446.50" width="263.00" height="145.00" fill="none" stroke="#2a2a2a" stroke-width="0.9"/>
<clipPath id="clipc2"><rect x="383" y="446.5" width="262.5" height="145.0"/></clipPath>
<g clip-path="url(#clipc2)">
<path d="M383.00 591.50L383.00 539.60L384.08 536.30L385.17 569.07L386.25 560.22L387.34 560.71L388.42 561.22L389.51 568.47L390.59 569.59L391.68 541.80L392.76 554.10L393.85 560.94L394.93 564.86L396.02 571.21L397.10 548.25L398.19 539.60L399.27 556.51L400.36 555.00L401.44 571.72L402.52 557.43L403.61 528.60L404.69 552.79L405.78 546.20L406.86 570.06L407.95 522.00L409.03 547.18L410.12 552.80L411.20 570.21L412.29 571.41L413.37 561.60L414.46 549.50L415.54 559.20L416.63 572.34L417.71 563.80L418.80 561.57L419.88 549.97L420.96 541.80L422.05 561.12L423.13 570.92L424.22 572.58L425.30 576.91L426.39 575.10L427.47 569.56L428.56 563.80L429.64 576.42L430.73 573.26L431.81 575.55L432.90 572.44L433.98 573.27L435.07 577.11L436.15 563.56L437.24 553.90L438.32 567.96L439.40 574.46L440.49 572.21L441.57 572.11L442.66 560.50L443.74 564.99L444.83 566.42L445.91 560.50L447.00 568.05L448.08 574.09L449.17 577.91L450.25 578.90L451.34 579.10L452.42 577.00L453.51 579.17L454.59 578.53L455.68 574.76L456.76 567.10L457.85 579.51L458.93 579.46L460.01 578.64L461.10 580.30L462.18 578.36L463.27 578.96L464.35 577.00L465.44 579.56L466.52 576.50L467.61 572.00L468.69 566.35L469.78 562.70L470.86 571.38L471.95 576.02L473.03 579.44L474.12 579.04L475.20 580.22L476.29 578.43L477.37 580.18L478.45 578.44L479.54 577.00L480.62 578.35L481.71 578.55L482.79 580.43L483.88 578.83L484.96 579.67L486.05 580.88L487.13 580.80L488.22 580.66L489.30 578.00L490.39 581.87L491.47 580.81L492.56 582.38L493.64 582.19L494.73 581.80L495.81 579.83L496.89 580.30L497.98 581.80L499.06 580.03L500.15 580.79L501.23 578.57L502.32 578.00L503.40 580.60L504.49 580.95L505.57 581.12L506.66 578.20L507.74 578.48L508.83 575.89L509.91 573.70L511.00 576.15L512.08 576.49L513.16 574.81L514.00 572.60L514.25 572.30L515.34 580.09L516.42 573.41L517.50 573.84L518.59 573.71L519.67 574.54L520.60 574.80L520.76 575.35L521.84 573.30L522.93 572.47L524.01 573.64L525.10 572.50L526.10 571.50L526.18 570.82L527.27 571.13L528.35 580.73L529.44 572.69L530.52 583.63L531.60 573.70L531.61 572.77L532.69 572.10L533.77 569.61L534.86 568.30L535.94 565.44L536.00 566.00L537.03 566.67L538.11 567.67L539.20 568.66L539.30 569.00L540.28 576.30L541.37 564.45L542.45 559.95L542.60 560.50L543.54 561.50L544.62 563.38L545.71 565.03L545.90 565.00L546.79 562.87L547.88 559.18L548.96 556.41L549.20 555.00L550.04 555.44L551.13 554.62L552.22 554.30L552.50 553.90L553.30 555.39L554.38 556.76L555.47 558.76L555.80 559.40L556.55 559.42L557.64 567.62L558.72 574.56L559.10 560.50L559.81 556.53L560.00 554.80L560.89 555.55L561.98 556.61L563.06 571.44L563.20 556.50L564.15 555.92L565.23 557.45L566.32 556.98L566.50 556.50L567.40 565.49L568.49 537.46L568.90 533.90L569.57 532.55L570.65 529.82L571.74 528.10L572.60 527.40L572.82 526.22L573.91 521.15L574.50 517.70L574.99 515.53L576.08 523.10L576.90 503.20L577.16 506.49L578.25 515.11L578.50 517.70L579.33 516.45L580.20 514.50L580.42 516.05L581.50 532.88L582.59 527.72L582.60 527.40L583.67 522.87L584.76 518.21L585.00 517.70L585.84 519.64L586.60 521.00L586.93 519.09L588.01 515.67L588.20 514.50L589.10 522.35L590.18 531.24L590.60 533.90L591.26 532.16L592.35 528.98L593.10 527.40L593.43 523.98L594.52 516.43L595.60 508.39L595.80 506.50L596.69 513.37L597.77 520.36L597.90 521.00L598.86 524.77L599.94 529.76L600.30 530.60L601.03 520.17L602.11 505.73L602.70 498.40L603.20 501.64L604.28 508.49L604.80 511.30L605.37 505.47L606.45 505.21L606.50 495.20L607.53 507.64L608.40 517.70L608.62 517.81L609.71 524.68L610.79 510.45L610.80 509.70L611.87 508.16L612.96 506.80L613.20 506.50L614.04 506.11L615.13 503.25L615.60 503.20L616.21 499.44L617.30 490.32L617.30 490.30L618.38 482.63L618.90 479.00L619.47 486.73L620.00 454.80L620.55 469.43L621.30 490.30L621.64 493.98L622.72 507.55L623.20 514.50L623.81 501.50L624.50 487.10L624.89 492.37L625.98 460.96L626.10 458.10L627.06 473.56L627.70 482.30L628.14 483.68L629.23 487.72L629.70 488.70L630.31 491.28L631.30 495.20L631.40 497.79L632.48 521.61L632.60 524.20L633.57 530.59L634.65 545.34L635.00 540.30L635.74 536.05L636.82 528.11L637.10 525.80L637.91 532.43L638.99 541.14L639.00 540.30L640.08 538.04L640.60 537.10L641.16 534.15L642.25 531.23L642.60 529.00L643.33 531.88L644.41 536.21L644.70 537.10L645.50 537.00L645.50 591.50Z" fill="#5470c8"/>
<path d="M383.00 591.50L383.00 591.30L384.08 591.29L385.17 591.28L386.25 591.27L387.34 591.25L388.42 591.24L389.51 591.23L390.59 591.22L391.68 591.21L392.76 591.20L393.85 591.18L394.93 591.17L396.02 591.16L397.10 591.15L398.19 591.14L399.27 591.13L400.36 591.11L401.44 591.10L402.52 591.09L403.61 591.08L404.69 591.07L405.78 591.06L406.86 591.04L407.95 591.03L409.03 591.02L410.12 591.01L411.20 590.85L412.29 590.03L413.37 589.22L414.46 588.41L415.54 588.10L416.63 588.30L417.71 588.49L418.80 588.69L419.88 588.89L420.96 589.08L422.05 589.28L423.13 589.48L424.22 589.68L425.30 589.87L426.39 589.99L427.47 589.97L428.56 589.94L429.64 589.92L430.73 589.89L431.81 589.87L432.90 589.84L433.98 589.82L435.07 589.79L436.15 589.77L437.24 589.74L438.32 589.72L439.40 589.70L440.49 589.67L441.57 589.65L442.66 589.62L443.74 589.60L444.83 589.57L445.91 589.55L447.00 589.52L448.08 589.49L449.17 589.34L450.25 589.19L451.34 589.04L452.42 588.90L453.51 588.75L454.59 588.60L455.68 588.45L456.76 588.31L457.85 588.16L458.93 588.01L460.01 587.95L461.10 587.90L462.18 587.86L463.27 587.81L464.35 587.76L465.44 587.71L466.52 587.66L467.61 587.61L468.69 587.56L469.78 587.51L470.86 587.37L471.95 587.20L473.03 587.03L474.12 586.86L475.20 586.70L476.29 586.53L477.37 586.36L478.45 586.19L479.54 586.03L480.62 585.86L481.71 585.80L482.79 585.80L483.88 585.80L484.96 585.80L486.05 585.80L487.13 585.80L488.22 585.80L489.30 585.80L490.39 585.80L491.47 585.80L492.56 585.69L493.64 585.47L494.73 585.25L495.81 585.04L496.89 584.82L497.98 584.60L499.06 584.39L500.15 584.17L501.23 583.95L502.32 583.74L503.40 583.44L504.49 583.00L505.57 582.57L506.66 582.14L507.74 581.70L508.83 581.27L509.91 580.84L511.00 580.40L512.08 579.97L513.16 579.53L514.00 579.20L514.25 579.37L515.34 580.09L516.42 580.81L517.50 581.54L518.59 582.26L519.67 582.98L520.60 583.60L520.76 583.49L521.84 582.77L522.93 582.05L524.01 581.33L525.10 580.60L526.10 579.93L526.18 579.88L527.27 579.29L528.35 580.73L529.44 582.18L530.52 583.63L531.60 585.07L531.61 585.07L532.69 586.52L533.77 587.97L534.86 585.59L535.94 583.13L536.00 583.00L537.03 580.66L538.11 578.20L539.20 577.18L539.30 577.10L540.28 576.30L541.37 575.41L542.45 574.52L542.60 574.40L543.54 573.63L544.62 572.75L545.71 572.15L545.90 572.05L546.79 571.60L547.88 571.06L548.96 570.52L549.20 570.40L550.04 569.98L551.13 569.43L552.22 569.98L552.50 570.22L553.30 570.88L554.38 571.79L555.47 572.69L555.80 572.97L556.55 573.59L557.64 574.50L558.72 574.56L559.10 574.43L559.81 574.20L560.00 574.13L560.89 573.84L561.98 573.47L563.06 573.11L563.20 573.07L564.15 572.75L565.23 571.78L566.32 570.38L566.50 570.14L567.40 568.98L568.49 567.57L568.90 567.04L569.57 566.17L570.65 561.23L571.74 555.80L572.60 551.50L572.82 550.38L573.91 546.94L574.50 545.15L574.99 543.65L576.08 540.36L576.90 542.65L577.16 543.42L578.25 546.61L578.50 547.35L579.33 549.80L580.20 548.37L580.42 547.93L581.50 545.73L582.59 543.53L582.60 543.50L583.67 544.60L584.76 545.72L585.00 545.98L585.84 546.63L586.60 543.57L586.93 542.25L588.01 537.87L588.20 537.10L589.10 541.91L590.18 547.74L590.60 550.00L591.26 549.03L592.35 547.46L593.10 546.36L593.43 545.88L594.52 540.61L595.60 532.57L595.80 531.11L596.69 530.54L597.77 539.31L597.90 540.33L598.86 546.17L599.94 541.79L600.30 540.35L601.03 537.42L602.11 533.28L602.70 531.55L603.20 530.09L604.28 526.90L604.80 525.38L605.37 525.04L606.45 530.49L606.50 530.74L607.53 535.95L608.40 540.30L608.62 540.08L609.71 538.99L610.79 537.91L610.80 537.90L611.87 538.94L612.96 546.22L613.20 547.83L614.04 552.87L615.13 544.49L615.60 540.85L616.21 536.12L617.30 518.02L617.30 517.98L618.38 515.26L618.90 516.00L619.47 521.13L620.00 525.95L620.55 530.95L621.30 535.31L621.64 535.67L622.72 536.80L623.20 535.58L623.81 525.77L624.50 514.53L624.89 508.22L625.98 502.39L626.10 502.26L627.06 501.25L627.70 502.56L628.14 504.30L629.23 508.54L629.70 510.81L630.31 514.52L631.30 520.49L631.40 521.08L632.48 546.22L632.60 549.39L633.57 559.13L634.65 567.91L635.00 569.71L635.74 571.96L636.82 575.26L637.10 575.91L637.91 577.56L638.99 579.78L639.00 579.80L640.08 575.64L640.60 573.62L641.16 571.45L642.25 570.20L642.60 569.83L643.33 569.08L644.41 568.54L644.70 568.40L645.50 568.00L645.50 591.50Z" fill="#bcd8fd"/>
<path d="M383.00 581.40L390.80 574.80L399.60 568.20L408.40 560.50L417.20 552.80L426.00 548.40L434.80 544.00L443.60 539.60L454.60 536.30L470.00 531.90L481.00 529.70L492.00 526.80L503.00 524.60L514.00 523.10L525.00 519.80L536.00 515.80L547.00 512.10L558.00 508.30L569.00 503.30L580.00 496.70L591.00 491.20L602.00 484.60L613.00 476.90L624.00 470.30L635.00 460.40L643.80 452.70" fill="none" stroke="#2040b8" stroke-width="1.15" stroke-linejoin="round"/>
<path d="M383.00 584.70L426.00 583.10L448.00 582.50L470.00 581.40L492.00 579.20L514.00 577.00L525.00 575.20L536.00 573.70L547.00 570.40L558.00 567.10L569.00 560.50L580.00 546.20L591.00 537.40L602.00 526.40L613.00 513.20L624.00 497.80L632.80 484.60L643.80 479.10" fill="none" stroke="#a6cdfe" stroke-width="1.1" stroke-linejoin="round"/>
</g>
<text x="348.00" y="430.10" font-family="Liberation Serif" font-weight="bold" font-size="10.6">c<tspan font-size="7.2" dy="2.8">2</tspan><tspan dy="-3.7">)</tspan></text>
<text x="514.25" y="442.10" font-size="9.33" text-anchor="middle" fill="#000" stroke="#000" stroke-width="0.200" font-weight="bold" textLength="123.46" lengthAdjust="spacingAndGlyphs">Rheraya (&gt;2500 m.a.s.l.)</text>
<text x="383.60" y="444.60" font-size="9.37" fill="#1a1a1a" textLength="18.66" lengthAdjust="spacingAndGlyphs">×10</text><text x="402.56" y="441.00" font-size="6.56" fill="#1a1a1a">5</text>
<text x="622.91" y="444.60" font-size="9.37" fill="#0000ff" textLength="18.66" lengthAdjust="spacingAndGlyphs">×10</text><text x="641.86" y="441.00" font-size="6.56" fill="#0000ff">6</text>
<text x="378.00" y="595.00" font-size="9.01" text-anchor="end" fill="#1a1a1a" stroke="#1a1a1a" stroke-width="0.200" textLength="13.52" lengthAdjust="spacingAndGlyphs">0.0</text>
<text x="378.00" y="564.50" font-size="9.01" text-anchor="end" fill="#1a1a1a" stroke="#1a1a1a" stroke-width="0.200" textLength="13.52" lengthAdjust="spacingAndGlyphs">0.5</text>
<text x="378.00" y="534.00" font-size="9.01" text-anchor="end" fill="#1a1a1a" stroke="#1a1a1a" stroke-width="0.200" textLength="13.52" lengthAdjust="spacingAndGlyphs">1.0</text>
<text x="378.00" y="503.50" font-size="9.01" text-anchor="end" fill="#1a1a1a" stroke="#1a1a1a" stroke-width="0.200" textLength="13.52" lengthAdjust="spacingAndGlyphs">1.5</text>
<text x="378.00" y="473.00" font-size="9.01" text-anchor="end" fill="#1a1a1a" stroke="#1a1a1a" stroke-width="0.200" textLength="13.52" lengthAdjust="spacingAndGlyphs">2.0</text>
<text x="650.90" y="588.60" font-size="9.01" text-anchor="start" fill="#0000ff" stroke="#0000ff" stroke-width="0.140" textLength="5.41" lengthAdjust="spacingAndGlyphs">0</text>
<text x="650.90" y="557.90" font-size="9.01" text-anchor="start" fill="#0000ff" stroke="#0000ff" stroke-width="0.140" textLength="5.41" lengthAdjust="spacingAndGlyphs">2</text>
<text x="650.90" y="527.20" font-size="9.01" text-anchor="start" fill="#0000ff" stroke="#0000ff" stroke-width="0.140" textLength="5.41" lengthAdjust="spacingAndGlyphs">4</text>
<text x="650.90" y="496.50" font-size="9.01" text-anchor="start" fill="#0000ff" stroke="#0000ff" stroke-width="0.140" textLength="5.41" lengthAdjust="spacingAndGlyphs">6</text>
<text x="650.90" y="465.80" font-size="9.01" text-anchor="start" fill="#0000ff" stroke="#0000ff" stroke-width="0.140" textLength="5.41" lengthAdjust="spacingAndGlyphs">8</text>
<text x="383.00" y="603.10" font-size="9.01" text-anchor="middle" fill="#1a1a1a" stroke="#1a1a1a" stroke-width="0.200" textLength="14.70" lengthAdjust="spacingAndGlyphs">Oct</text>
<text x="416.44" y="603.10" font-size="9.01" text-anchor="middle" fill="#1a1a1a" stroke="#1a1a1a" stroke-width="0.200" textLength="16.59" lengthAdjust="spacingAndGlyphs">Nov</text>
<text x="447.84" y="603.10" font-size="9.01" text-anchor="middle" fill="#1a1a1a" stroke="#1a1a1a" stroke-width="0.200" textLength="16.45" lengthAdjust="spacingAndGlyphs">Dec</text>
<text x="479.57" y="603.10" font-size="9.01" text-anchor="middle" fill="#1a1a1a" stroke="#1a1a1a" stroke-width="0.200" textLength="13.10" lengthAdjust="spacingAndGlyphs">Jan</text>
<text x="513.20" y="603.10" font-size="9.01" text-anchor="middle" fill="#1a1a1a" stroke="#1a1a1a" stroke-width="0.200" textLength="15.05" lengthAdjust="spacingAndGlyphs">Feb</text>
<text x="545.23" y="603.10" font-size="9.01" text-anchor="middle" fill="#1a1a1a" stroke="#1a1a1a" stroke-width="0.200" textLength="16.04" lengthAdjust="spacingAndGlyphs">Mar</text>
<text x="577.67" y="603.10" font-size="9.01" text-anchor="middle" fill="#1a1a1a" stroke="#1a1a1a" stroke-width="0.200" textLength="14.71" lengthAdjust="spacingAndGlyphs">Apr</text>
<text x="611.03" y="603.10" font-size="9.01" text-anchor="middle" fill="#1a1a1a" stroke="#1a1a1a" stroke-width="0.200" textLength="17.57" lengthAdjust="spacingAndGlyphs">May</text>
<path d="M383.00 591.40h-2.6 M383.00 560.90h-2.6 M383.00 530.40h-2.6 M383.00 499.90h-2.6 M383.00 469.40h-2.6 M645.50 585.10h2.6 M645.50 554.40h2.6 M645.50 523.70h2.6 M645.50 493.00h2.6 M645.50 462.30h2.6 M383.00 591.50v2.6 M416.44 591.50v2.6 M447.84 591.50v2.6 M479.57 591.50v2.6 M513.20 591.50v2.6 M545.23 591.50v2.6 M577.67 591.50v2.6 M611.03 591.50v2.6" stroke="#444" stroke-width="0.75" fill="none"/>
<text x="359.30" y="518.40" font-size="8.75" text-anchor="middle" fill="#1a1a1a" stroke="#1a1a1a" stroke-width="0.200" textLength="115.65" lengthAdjust="spacingAndGlyphs" transform="rotate(-90 359.30 518.40)">Contribution to outflow (m³)</text>
<text x="665.60" y="517.90" font-size="8.75" text-anchor="middle" fill="#0000ff" stroke="#0000ff" stroke-width="0.140" textLength="100.61" lengthAdjust="spacingAndGlyphs" transform="rotate(-90 665.60 517.90)">Cumulative outflow (m³)</text>
<rect x="383.00" y="446.50" width="262.50" height="145.00" fill="none" stroke="#2a2a2a" stroke-width="0.9"/>
<rect x="235" y="637.5" width="231.6" height="30.3" rx="2" fill="#8a8a8a" opacity="0.85"/>
<rect x="233" y="635.5" width="231.6" height="30.3" rx="2" fill="#fff" stroke="#d5d5d5" stroke-width="0.8"/>
<rect x="236" y="639.5" width="19.2" height="6.5" fill="#bcd8fd"/>
<rect x="236" y="653.8" width="19.2" height="6.5" fill="#5470c8"/>
<path d="M329.3 643h19.9" stroke="#5470c8" stroke-width="1.5"/>
<path d="M329.3 656.9h19.9" stroke="#b3d3fc" stroke-width="1.5"/>
<text x="263.20" y="646.20" font-size="9.96" text-anchor="start" fill="#1a1a1a" stroke="#1a1a1a" stroke-width="0.200" textLength="46.60" lengthAdjust="spacingAndGlyphs">Snowmelt</text>
<text x="263.20" y="660.20" font-size="9.96" text-anchor="start" fill="#1a1a1a" stroke="#1a1a1a" stroke-width="0.200" textLength="34.95" lengthAdjust="spacingAndGlyphs">Rainfall</text>
<text x="357.00" y="646.20" font-size="9.96" text-anchor="start" fill="#1a1a1a" stroke="#1a1a1a" stroke-width="0.200" textLength="89.12" lengthAdjust="spacingAndGlyphs">Cumulative rainfall</text>
<text x="357.00" y="660.20" font-size="9.96" text-anchor="start" fill="#1a1a1a" stroke="#1a1a1a" stroke-width="0.200" textLength="102.17" lengthAdjust="spacingAndGlyphs">Cumulative snowmelt</text>
</g>
</svg>
</body></html>
